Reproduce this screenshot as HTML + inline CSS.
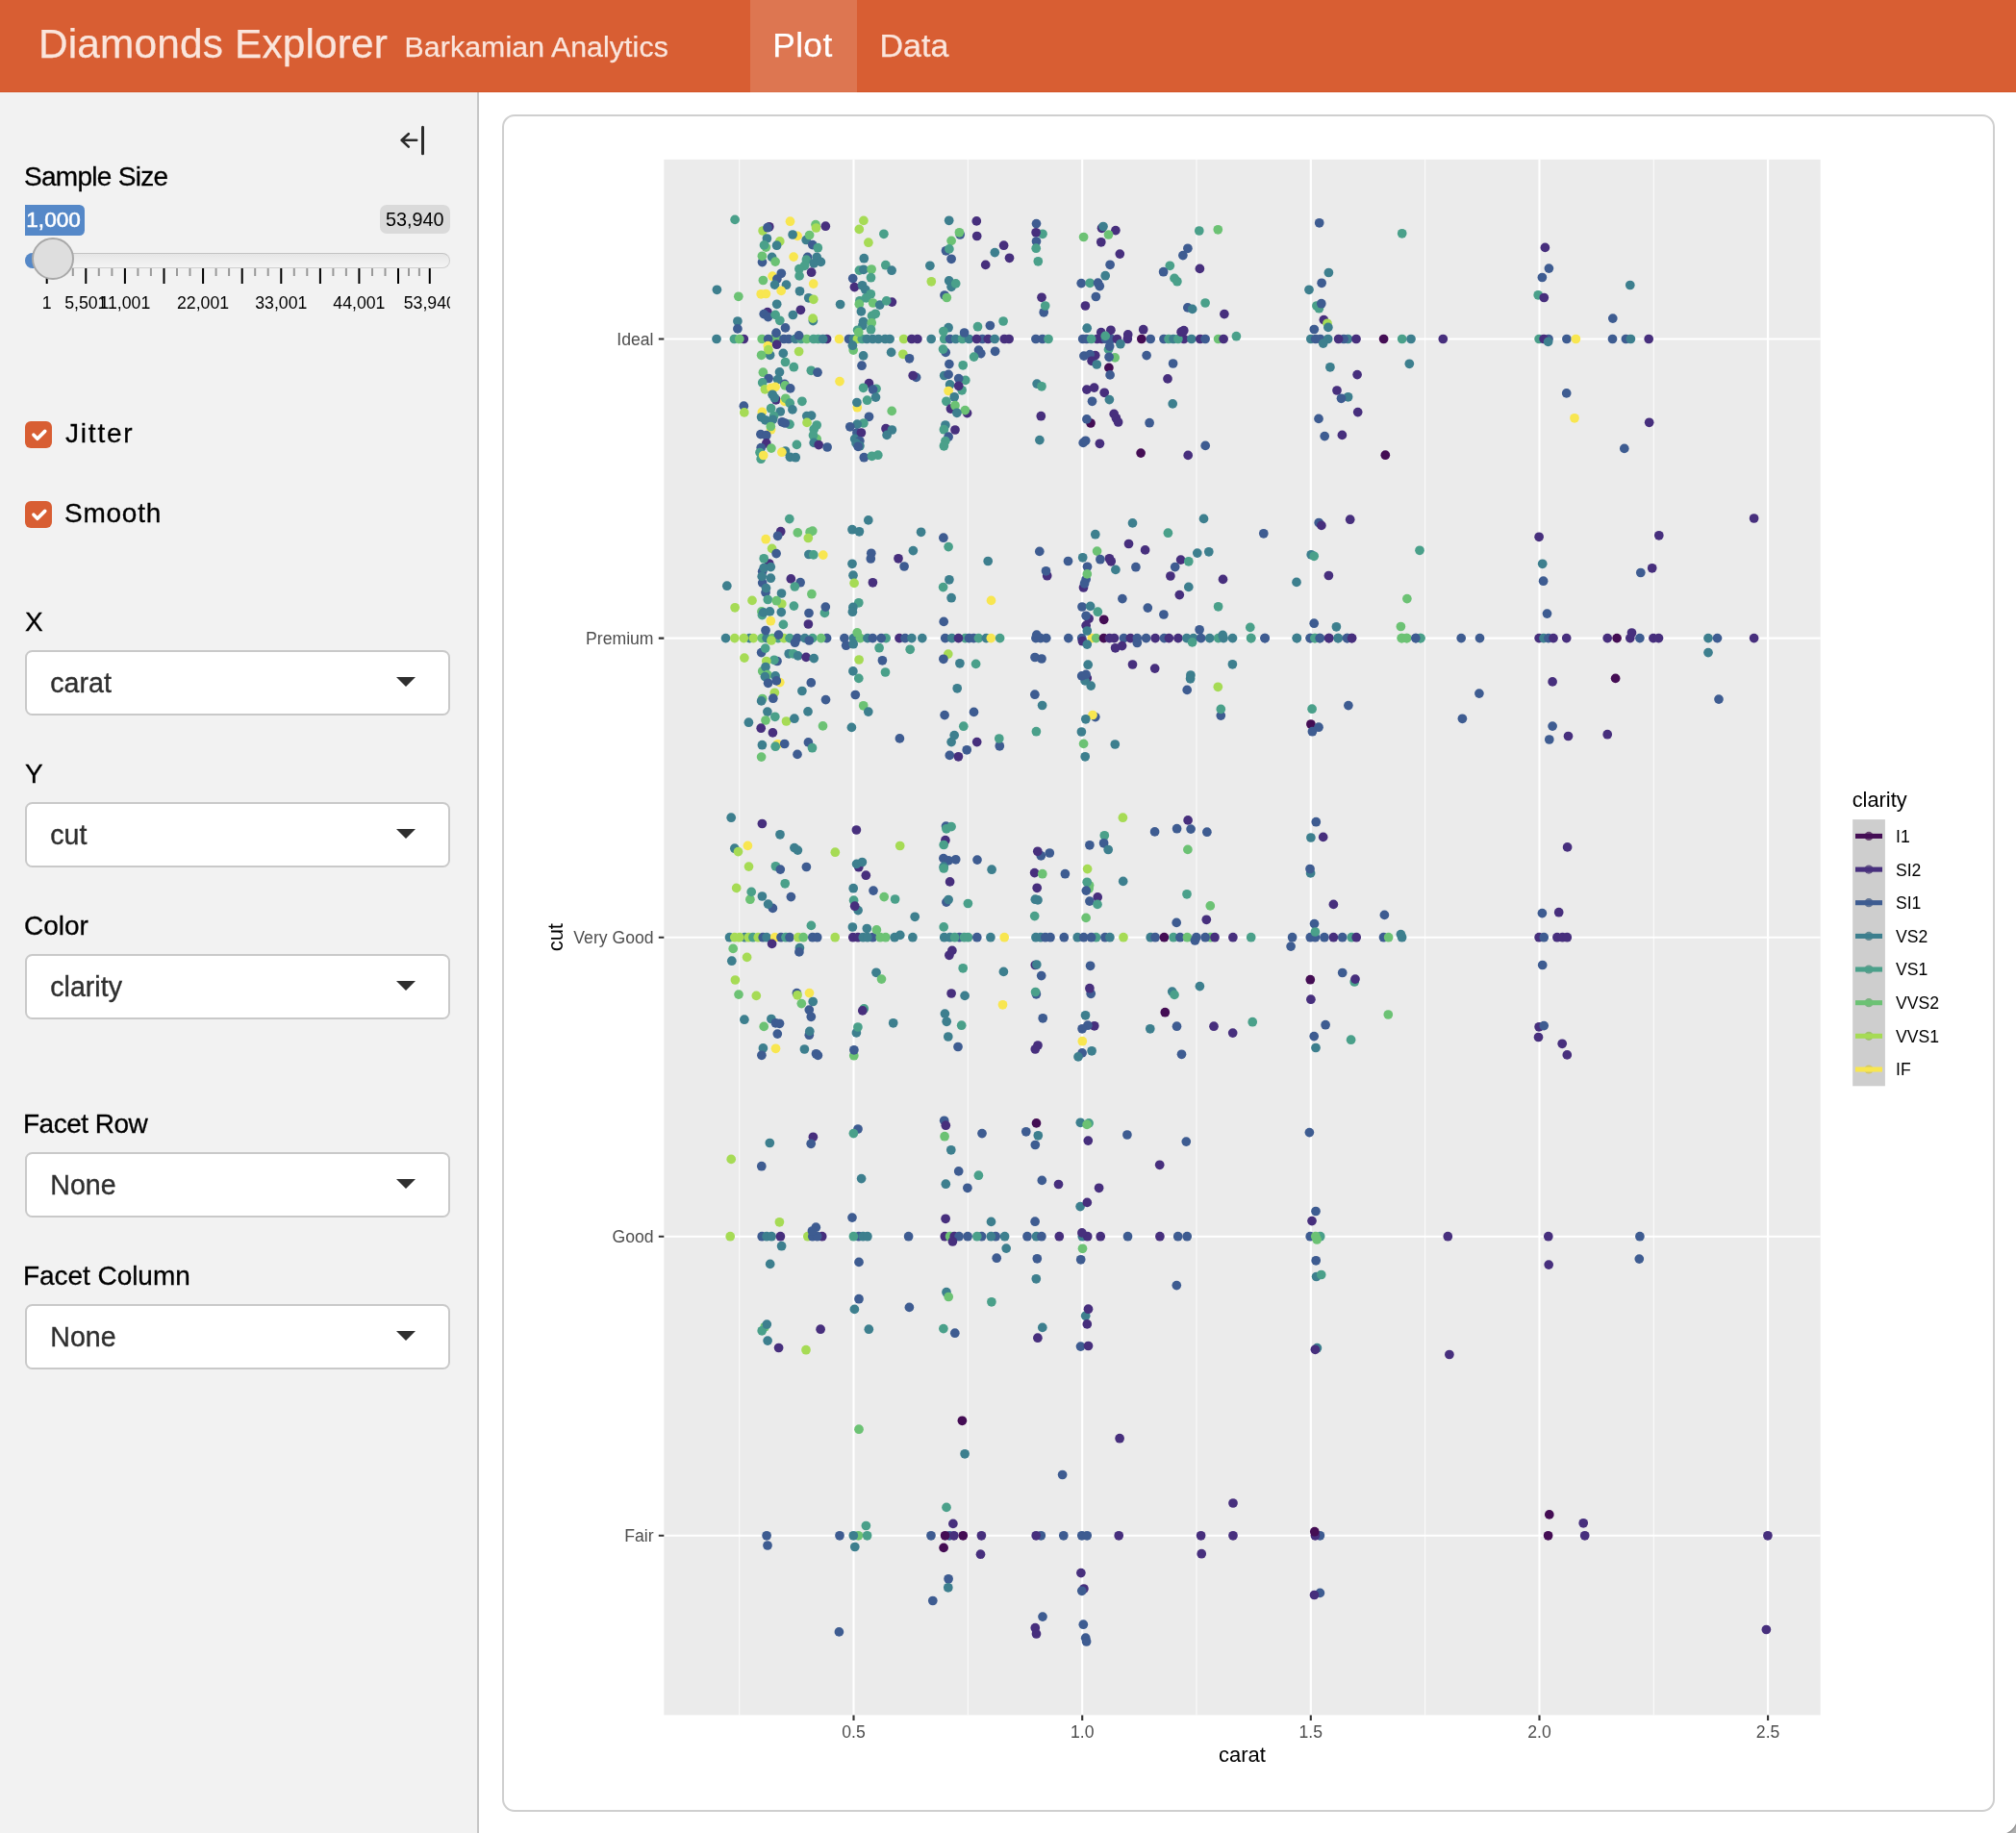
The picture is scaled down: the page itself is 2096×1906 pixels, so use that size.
<!DOCTYPE html>
<html>
<head>
<meta charset="utf-8">
<title>Diamonds Explorer</title>
<style>
html,body{margin:0;padding:0;}
body{width:2096px;height:1906px;position:relative;overflow:hidden;background:#fff;font-family:"Liberation Sans",sans-serif;color:#000;}
.abs{position:absolute;white-space:nowrap;line-height:1;}
#nav,#side,#plot,#slider,.sel,.lbl{will-change:transform;}
#nav{position:absolute;left:0;top:0;width:2096px;height:96px;background:#d85e33;}
#nav div{-webkit-text-stroke:0.25px currentColor;}
#nav .brand{left:40px;top:24.8px;font-size:42.4px;letter-spacing:0.15px;color:#fae5dc;}
#nav .sub{left:420.6px;top:34.3px;font-size:30.2px;letter-spacing:0.13px;color:#fae5dc;}
#nav .tabon{position:absolute;left:780px;top:0;width:111px;height:96px;background:rgba(255,255,255,0.15);}
#nav .t1{left:803.2px;top:29px;font-size:35.3px;letter-spacing:0.4px;color:#fff;}
#nav .t2{left:914.5px;top:30px;font-size:34px;color:#fae5dc;}
#side{position:absolute;left:0;top:96px;width:496px;height:1810px;background:#f2f2f2;border-right:2px solid #c6c6c6;}
.lbl{font-size:28px;color:#000;left:26px;-webkit-text-stroke:0.3px #000;}
.sel{position:absolute;left:26px;width:438px;height:64px;border:2px solid #c9c9c9;border-radius:7.5px;background:#fff;}
.sel span{position:absolute;left:24.3px;top:18px;font-size:28.6px;line-height:1;color:#2f2f2f;white-space:nowrap;-webkit-text-stroke:0.35px #2f2f2f;}
.sel i{position:absolute;left:384px;top:26px;width:0;height:0;border-left:10px solid transparent;border-right:10px solid transparent;border-top:10px solid #2f2f2f;}
.chk{position:absolute;left:26px;width:28px;height:28px;border-radius:6px;background:#d85e33;}
.chk svg{position:absolute;left:0;top:0;}
#card{position:absolute;left:522px;top:119px;width:1548px;height:1761px;border:2px solid #cfcfcf;border-radius:13px;background:#fff;}
#plot{position:absolute;left:0;top:0;}
#plot text{font-family:"Liberation Sans",sans-serif;}
</style>
</head>
<body>
<div id="nav">
  <div style="position:absolute;left:0;top:95px;width:2096px;height:1px;background:#d5562a;-webkit-text-stroke:0"></div>
  <div class="abs brand">Diamonds Explorer</div>
  <div class="abs sub">Barkamian Analytics</div>
  <div class="tabon"></div>
  <div class="abs t1">Plot</div>
  <div class="abs t2">Data</div>
</div>
<div id="side"></div>

<!-- collapse toggle icon -->
<svg class="abs" style="left:410px;top:126px" width="40" height="40" viewBox="0 0 40 40">
  <g fill="none" stroke="#2b2b2b" stroke-linecap="round" stroke-linejoin="round">
    <path d="M29.5 6.3V33.7" stroke-width="3"/>
    <path d="M23.2 19.8H8M14.8 13.2L7.6 19.8L14.8 26.6" stroke-width="2.6"/>
  </g>
</svg>

<div class="abs lbl" id="l0" style="left:25px;top:169.5px;letter-spacing:-0.7px">Sample Size</div>

<!-- slider -->
<div id="slider">
  <div class="abs" style="left:26px;top:213px;width:62px;height:32px;background:#5588c8;border-radius:0 5.5px 5.5px 0;"></div>
  <div class="abs" id="sfrom" style="left:27.3px;top:218.3px;font-size:22.6px;-webkit-text-stroke:0.55px #fff;color:#fff;">1,000</div>
  <div class="abs" style="left:395px;top:213px;width:73px;height:30px;background:#dadada;border-radius:7px;"></div>
  <div class="abs" id="smax" style="left:401px;top:219px;font-size:19.8px;color:#000;">53,940</div>
  <div class="abs" style="left:26px;top:263px;width:440px;height:14px;border:1px solid #cfcfcf;border-top-color:#c2c2c2;border-radius:8px;background:linear-gradient(#e6e6e6,#f4f4f4);"></div>
  <div class="abs" style="left:26px;top:263px;width:30px;height:16px;border-radius:8px 0 0 8px;background:#5588c8;"></div>
  <svg class="abs" id="sgrid" style="left:0;top:278px" width="500" height="50" viewBox="0 0 500 50"><path d="M48.7 1V17M89.3 1V17M129.9 1V17M170.5 1V17M211.1 1V17M251.7 1V17M292.3 1V17M332.9 1V17M373.4 1V17M414 1V17M446.8 1V17" stroke="#000" stroke-width="2" fill="none"/>
<path d="M62.2 1V9M75.8 1V9M102.8 1V9M116.4 1V9M143.4 1V9M156.9 1V9M184 1V9M197.5 1V9M224.6 1V9M238.1 1V9M265.2 1V9M278.7 1V9M305.8 1V9M319.3 1V9M346.4 1V9M359.9 1V9M387 1V9M400.5 1V9M425 1V9M435.9 1V9" stroke="#999" stroke-width="2" fill="none"/>
<clipPath id="gc"><rect x="0" y="0" width="468" height="50"/></clipPath>
<g clip-path="url(#gc)">
<text x="48.7" y="43" font-size="17.7" text-anchor="middle" fill="#000" font-family="Liberation Sans,sans-serif">1</text>
<text x="89.3" y="43" font-size="17.7" text-anchor="middle" fill="#000" font-family="Liberation Sans,sans-serif">5,501</text>
<text x="129.9" y="43" font-size="17.7" text-anchor="middle" fill="#000" font-family="Liberation Sans,sans-serif">11,001</text>
<text x="211.1" y="43" font-size="17.7" text-anchor="middle" fill="#000" font-family="Liberation Sans,sans-serif">22,001</text>
<text x="292.3" y="43" font-size="17.7" text-anchor="middle" fill="#000" font-family="Liberation Sans,sans-serif">33,001</text>
<text x="373.4" y="43" font-size="17.7" text-anchor="middle" fill="#000" font-family="Liberation Sans,sans-serif">44,001</text>
<text x="446.8" y="43" font-size="17.7" text-anchor="middle" fill="#000" font-family="Liberation Sans,sans-serif">53,940</text>
</g></svg>
  <div class="abs" style="left:33px;top:247px;width:40px;height:40px;border:2px solid #a8a8a8;border-radius:50%;background:#dedede;"></div>
</div>

<div class="chk" style="top:438px"><svg width="28" height="28" viewBox="0 0 20 20"><path d="M6.4 10.1l2.8 2.9l5.6-5.6" fill="none" stroke="#fff" stroke-width="2.6" stroke-linecap="round" stroke-linejoin="round"/></svg></div>
<div class="abs lbl" id="l1" style="left:67.5px;top:437px;letter-spacing:1.8px">Jitter</div>
<div class="chk" style="top:521px"><svg width="28" height="28" viewBox="0 0 20 20"><path d="M6.4 10.1l2.8 2.9l5.6-5.6" fill="none" stroke="#fff" stroke-width="2.6" stroke-linecap="round" stroke-linejoin="round"/></svg></div>
<div class="abs lbl" id="l2" style="left:67px;top:520px;letter-spacing:0.75px">Smooth</div>

<div class="abs lbl" id="l3" style="top:633px">X</div>
<div class="sel" style="top:676px"><span>carat</span><i></i></div>
<div class="abs lbl" id="l4" style="top:790.5px">Y</div>
<div class="sel" style="top:834px"><span>cut</span><i></i></div>
<div class="abs lbl" id="l5" style="left:25px;top:949px">Color</div>
<div class="sel" style="top:992px"><span>clarity</span><i></i></div>
<div class="abs lbl" id="l6" style="left:24px;top:1155px;letter-spacing:-0.5px">Facet Row</div>
<div class="sel" style="top:1198px"><span>None</span><i></i></div>
<div class="abs lbl" id="l7" style="left:24px;top:1313px;letter-spacing:-0.05px">Facet Column</div>
<div class="sel" style="top:1356px"><span>None</span><i></i></div>

<div id="card"></div>
<svg id="plot" width="2096" height="1906" viewBox="0 0 2096 1906">
<rect x="690.3" y="165.9" width="1202.4" height="1617.5" fill="#ebebeb"/>
<path d="M768.7 165.9V1783.4M1006.3 165.9V1783.4M1244 165.9V1783.4M1481.6 165.9V1783.4M1719.3 165.9V1783.4" stroke="#fff" stroke-width="1.07" fill="none" opacity="0.85"/>
<path d="M887.5 165.9V1783.4M1125.2 165.9V1783.4M1362.8 165.9V1783.4M1600.5 165.9V1783.4M1838.1 165.9V1783.4M690.3 352.5H1892.7M690.3 663.6H1892.7M690.3 974.7H1892.7M690.3 1285.7H1892.7M690.3 1596.8H1892.7" stroke="#fff" stroke-width="2.13" fill="none"/>
<circle cx="745" cy="352.5" r="4.85" fill="#3d7f8e"/>
<circle cx="773.3" cy="352.5" r="4.85" fill="#472f7d"/>
<circle cx="763.4" cy="352.5" r="4.85" fill="#4aa08a"/>
<circle cx="768.8" cy="352.5" r="4.85" fill="#6cc274"/>
<circle cx="792.2" cy="352.5" r="4.85" fill="#6cc274"/>
<circle cx="804.1" cy="352.5" r="4.85" fill="#6cc274"/>
<circle cx="798.7" cy="352.5" r="4.85" fill="#3e5c91"/>
<circle cx="809" cy="352.5" r="4.85" fill="#6cc274"/>
<circle cx="815" cy="352.5" r="4.85" fill="#3e5c91"/>
<circle cx="820" cy="352.5" r="4.85" fill="#3e5c91"/>
<circle cx="826.9" cy="352.5" r="4.85" fill="#3d7f8e"/>
<circle cx="832.9" cy="352.5" r="4.85" fill="#4aa08a"/>
<circle cx="838.8" cy="352.5" r="4.85" fill="#6cc274"/>
<circle cx="845.8" cy="352.5" r="4.85" fill="#4aa08a"/>
<circle cx="850.7" cy="352.5" r="4.85" fill="#4aa08a"/>
<circle cx="859.6" cy="352.5" r="4.85" fill="#472f7d"/>
<circle cx="855.7" cy="352.5" r="4.85" fill="#3d7f8e"/>
<circle cx="872.5" cy="352.5" r="4.85" fill="#f8e650"/>
<circle cx="882.5" cy="352.5" r="4.85" fill="#3e5c91"/>
<circle cx="887.4" cy="352.5" r="4.85" fill="#3d7f8e"/>
<circle cx="891.4" cy="352.5" r="4.85" fill="#a6db55"/>
<circle cx="896.3" cy="352.5" r="4.85" fill="#4aa08a"/>
<circle cx="901.3" cy="352.5" r="4.85" fill="#3d7f8e"/>
<circle cx="907.3" cy="352.5" r="4.85" fill="#3d7f8e"/>
<circle cx="913.2" cy="352.5" r="4.85" fill="#3d7f8e"/>
<circle cx="920.2" cy="352.5" r="4.85" fill="#3d7f8e"/>
<circle cx="925.1" cy="352.5" r="4.85" fill="#3d7f8e"/>
<circle cx="939.6" cy="352.5" r="4.85" fill="#a6db55"/>
<circle cx="947.9" cy="352.5" r="4.85" fill="#472f7d"/>
<circle cx="953.9" cy="352.5" r="4.85" fill="#472f7d"/>
<circle cx="968.2" cy="352.5" r="4.85" fill="#3d7f8e"/>
<circle cx="981.7" cy="352.5" r="4.85" fill="#4aa08a"/>
<circle cx="987.6" cy="352.5" r="4.85" fill="#3e5c91"/>
<circle cx="993.6" cy="352.5" r="4.85" fill="#3d7f8e"/>
<circle cx="1000.5" cy="352.5" r="4.85" fill="#4aa08a"/>
<circle cx="1007.5" cy="352.5" r="4.85" fill="#3d7f8e"/>
<circle cx="1021.3" cy="352.5" r="4.85" fill="#3e5c91"/>
<circle cx="1015.4" cy="352.5" r="4.85" fill="#472f7d"/>
<circle cx="1027.3" cy="352.5" r="4.85" fill="#472f7d"/>
<circle cx="1034.2" cy="352.5" r="4.85" fill="#3d7f8e"/>
<circle cx="1044.2" cy="352.5" r="4.85" fill="#472f7d"/>
<circle cx="1049.1" cy="352.5" r="4.85" fill="#472f7d"/>
<circle cx="1076.9" cy="352.5" r="4.85" fill="#3e5c91"/>
<circle cx="1083.8" cy="352.5" r="4.85" fill="#3e5c91"/>
<circle cx="1090" cy="352.5" r="4.85" fill="#4aa08a"/>
<circle cx="1125.7" cy="352.5" r="4.85" fill="#3e5c91"/>
<circle cx="1129.7" cy="352.5" r="4.85" fill="#3e5c91"/>
<circle cx="1140.6" cy="352.5" r="4.85" fill="#472f7d"/>
<circle cx="1134.6" cy="352.5" r="4.85" fill="#4aa08a"/>
<circle cx="1145.6" cy="352.5" r="4.85" fill="#472f7d"/>
<circle cx="1149.5" cy="352.5" r="4.85" fill="#3e5c91"/>
<circle cx="1155.5" cy="352.5" r="4.85" fill="#3e5c91"/>
<circle cx="1161.4" cy="352.5" r="4.85" fill="#472f7d"/>
<circle cx="1172.3" cy="352.5" r="4.85" fill="#472f7d"/>
<circle cx="1196.2" cy="352.5" r="4.85" fill="#3e5c91"/>
<circle cx="1186.8" cy="352.5" r="4.85" fill="#440d54"/>
<circle cx="1210" cy="352.5" r="4.85" fill="#3e5c91"/>
<circle cx="1215" cy="352.5" r="4.85" fill="#4aa08a"/>
<circle cx="1220" cy="352.5" r="4.85" fill="#3d7f8e"/>
<circle cx="1230.9" cy="352.5" r="4.85" fill="#472f7d"/>
<circle cx="1224.9" cy="352.5" r="4.85" fill="#4aa08a"/>
<circle cx="1238.8" cy="352.5" r="4.85" fill="#3d7f8e"/>
<circle cx="1247.7" cy="352.5" r="4.85" fill="#472f7d"/>
<circle cx="1253.1" cy="352.5" r="4.85" fill="#3e5c91"/>
<circle cx="1266.6" cy="352.5" r="4.85" fill="#6cc274"/>
<circle cx="1272.1" cy="352.5" r="4.85" fill="#472f7d"/>
<circle cx="1362.8" cy="352.5" r="4.85" fill="#3d7f8e"/>
<circle cx="1367.8" cy="352.5" r="4.85" fill="#3e5c91"/>
<circle cx="1372.7" cy="352.5" r="4.85" fill="#3e5c91"/>
<circle cx="1380.7" cy="352.5" r="4.85" fill="#3d7f8e"/>
<circle cx="1401.5" cy="352.5" r="4.85" fill="#3d7f8e"/>
<circle cx="1397.1" cy="352.5" r="4.85" fill="#3e5c91"/>
<circle cx="1391.6" cy="352.5" r="4.85" fill="#472f7d"/>
<circle cx="1410" cy="352.5" r="4.85" fill="#472f7d"/>
<circle cx="1438.6" cy="352.5" r="4.85" fill="#440d54"/>
<circle cx="1457.7" cy="352.5" r="4.85" fill="#4aa08a"/>
<circle cx="1467" cy="352.5" r="4.85" fill="#3d7f8e"/>
<circle cx="1500.3" cy="352.5" r="4.85" fill="#472f7d"/>
<circle cx="1600.1" cy="352.5" r="4.85" fill="#4aa08a"/>
<circle cx="1610" cy="352.5" r="4.85" fill="#3e5c91"/>
<circle cx="1605.1" cy="352.5" r="4.85" fill="#472f7d"/>
<circle cx="1628.9" cy="352.5" r="4.85" fill="#3e5c91"/>
<circle cx="1638.4" cy="352.5" r="4.85" fill="#f8e650"/>
<circle cx="1676.5" cy="352.5" r="4.85" fill="#3e5c91"/>
<circle cx="1690.4" cy="352.5" r="4.85" fill="#3e5c91"/>
<circle cx="1695.4" cy="352.5" r="4.85" fill="#3d7f8e"/>
<circle cx="1714.2" cy="352.5" r="4.85" fill="#472f7d"/>
<circle cx="1300.7" cy="663.6" r="4.85" fill="#4aa08a"/>
<circle cx="1315" cy="663.6" r="4.85" fill="#3e5c91"/>
<circle cx="1348.3" cy="663.6" r="4.85" fill="#3d7f8e"/>
<circle cx="1362.3" cy="663.6" r="4.85" fill="#3e5c91"/>
<circle cx="1367.4" cy="663.6" r="4.85" fill="#6cc274"/>
<circle cx="1372.4" cy="663.6" r="4.85" fill="#3e5c91"/>
<circle cx="1381.7" cy="663.6" r="4.85" fill="#472f7d"/>
<circle cx="1391.2" cy="663.6" r="4.85" fill="#3d7f8e"/>
<circle cx="1400.7" cy="663.6" r="4.85" fill="#3e5c91"/>
<circle cx="1405.5" cy="663.6" r="4.85" fill="#472f7d"/>
<circle cx="1457.6" cy="663.6" r="4.85" fill="#6cc274"/>
<circle cx="1462.6" cy="663.6" r="4.85" fill="#6cc274"/>
<circle cx="1476.9" cy="663.6" r="4.85" fill="#4aa08a"/>
<circle cx="1472.1" cy="663.6" r="4.85" fill="#3e5c91"/>
<circle cx="1519.2" cy="663.6" r="4.85" fill="#3e5c91"/>
<circle cx="1538.5" cy="663.6" r="4.85" fill="#3e5c91"/>
<circle cx="1600.1" cy="663.6" r="4.85" fill="#472f7d"/>
<circle cx="1604.9" cy="663.6" r="4.85" fill="#3d7f8e"/>
<circle cx="1609.9" cy="663.6" r="4.85" fill="#3e5c91"/>
<circle cx="1615" cy="663.6" r="4.85" fill="#472f7d"/>
<circle cx="1628.7" cy="663.6" r="4.85" fill="#472f7d"/>
<circle cx="1671.2" cy="663.6" r="4.85" fill="#472f7d"/>
<circle cx="1681.1" cy="663.6" r="4.85" fill="#440d54"/>
<circle cx="1694.8" cy="663.6" r="4.85" fill="#472f7d"/>
<circle cx="1704.9" cy="663.6" r="4.85" fill="#3e5c91"/>
<circle cx="1718.9" cy="663.6" r="4.85" fill="#472f7d"/>
<circle cx="1724.5" cy="663.6" r="4.85" fill="#472f7d"/>
<circle cx="1776" cy="663.6" r="4.85" fill="#3d7f8e"/>
<circle cx="1785.5" cy="663.6" r="4.85" fill="#3e5c91"/>
<circle cx="1823.6" cy="663.6" r="4.85" fill="#472f7d"/>
<circle cx="754.5" cy="663.6" r="4.85" fill="#3d7f8e"/>
<circle cx="763.8" cy="663.6" r="4.85" fill="#a6db55"/>
<circle cx="779.3" cy="663.6" r="4.85" fill="#3d7f8e"/>
<circle cx="773.3" cy="663.6" r="4.85" fill="#a6db55"/>
<circle cx="783.3" cy="663.6" r="4.85" fill="#a6db55"/>
<circle cx="792.2" cy="663.6" r="4.85" fill="#6cc274"/>
<circle cx="797.1" cy="663.6" r="4.85" fill="#3d7f8e"/>
<circle cx="803.1" cy="663.6" r="4.85" fill="#6cc274"/>
<circle cx="809" cy="663.6" r="4.85" fill="#4aa08a"/>
<circle cx="815" cy="663.6" r="4.85" fill="#a6db55"/>
<circle cx="821" cy="663.6" r="4.85" fill="#4aa08a"/>
<circle cx="828.9" cy="663.6" r="4.85" fill="#3e5c91"/>
<circle cx="836.8" cy="663.6" r="4.85" fill="#3d7f8e"/>
<circle cx="844.8" cy="663.6" r="4.85" fill="#4aa08a"/>
<circle cx="859.6" cy="663.6" r="4.85" fill="#3e5c91"/>
<circle cx="853.7" cy="663.6" r="4.85" fill="#6cc274"/>
<circle cx="877.9" cy="663.6" r="4.85" fill="#3e5c91"/>
<circle cx="887.4" cy="663.6" r="4.85" fill="#3d7f8e"/>
<circle cx="894.4" cy="663.6" r="4.85" fill="#6cc274"/>
<circle cx="901.9" cy="663.6" r="4.85" fill="#3d7f8e"/>
<circle cx="907.3" cy="663.6" r="4.85" fill="#3e5c91"/>
<circle cx="921.2" cy="663.6" r="4.85" fill="#4aa08a"/>
<circle cx="916.2" cy="663.6" r="4.85" fill="#3e5c91"/>
<circle cx="935" cy="663.6" r="4.85" fill="#472f7d"/>
<circle cx="941" cy="663.6" r="4.85" fill="#3e5c91"/>
<circle cx="947.9" cy="663.6" r="4.85" fill="#3d7f8e"/>
<circle cx="958.8" cy="663.6" r="4.85" fill="#3d7f8e"/>
<circle cx="982.7" cy="663.6" r="4.85" fill="#3e5c91"/>
<circle cx="989.6" cy="663.6" r="4.85" fill="#3d7f8e"/>
<circle cx="1003.5" cy="663.6" r="4.85" fill="#4aa08a"/>
<circle cx="996.5" cy="663.6" r="4.85" fill="#472f7d"/>
<circle cx="1007.5" cy="663.6" r="4.85" fill="#3e5c91"/>
<circle cx="1012.4" cy="663.6" r="4.85" fill="#3e5c91"/>
<circle cx="1017.4" cy="663.6" r="4.85" fill="#4aa08a"/>
<circle cx="1025.3" cy="663.6" r="4.85" fill="#3d7f8e"/>
<circle cx="1030.3" cy="663.6" r="4.85" fill="#f8e650"/>
<circle cx="1039.6" cy="663.6" r="4.85" fill="#4aa08a"/>
<circle cx="1076.9" cy="663.6" r="4.85" fill="#3e5c91"/>
<circle cx="1081.9" cy="663.6" r="4.85" fill="#3e5c91"/>
<circle cx="1087.8" cy="663.6" r="4.85" fill="#3e5c91"/>
<circle cx="1110.8" cy="663.6" r="4.85" fill="#3e5c91"/>
<circle cx="1124.7" cy="663.6" r="4.85" fill="#3e5c91"/>
<circle cx="1135.2" cy="663.6" r="4.85" fill="#f8e650"/>
<circle cx="1139.6" cy="663.6" r="4.85" fill="#6cc274"/>
<circle cx="1147.5" cy="663.6" r="4.85" fill="#440d54"/>
<circle cx="1153.5" cy="663.6" r="4.85" fill="#472f7d"/>
<circle cx="1158.5" cy="663.6" r="4.85" fill="#472f7d"/>
<circle cx="1168.4" cy="663.6" r="4.85" fill="#3e5c91"/>
<circle cx="1175.3" cy="663.6" r="4.85" fill="#472f7d"/>
<circle cx="1182.3" cy="663.6" r="4.85" fill="#3e5c91"/>
<circle cx="1191.6" cy="663.6" r="4.85" fill="#3e5c91"/>
<circle cx="1201.1" cy="663.6" r="4.85" fill="#472f7d"/>
<circle cx="1210.4" cy="663.6" r="4.85" fill="#3e5c91"/>
<circle cx="1215.4" cy="663.6" r="4.85" fill="#472f7d"/>
<circle cx="1224.9" cy="663.6" r="4.85" fill="#472f7d"/>
<circle cx="1233.8" cy="663.6" r="4.85" fill="#3d7f8e"/>
<circle cx="1240.8" cy="663.6" r="4.85" fill="#3d7f8e"/>
<circle cx="1248.7" cy="663.6" r="4.85" fill="#3e5c91"/>
<circle cx="1257.7" cy="663.6" r="4.85" fill="#3d7f8e"/>
<circle cx="1266.6" cy="663.6" r="4.85" fill="#4aa08a"/>
<circle cx="1272.1" cy="663.6" r="4.85" fill="#3d7f8e"/>
<circle cx="1281.5" cy="663.6" r="4.85" fill="#3d7f8e"/>
<circle cx="1300.7" cy="663.6" r="4.85" fill="#4aa08a"/>
<circle cx="1315.2" cy="663.6" r="4.85" fill="#3e5c91"/>
<circle cx="1348.3" cy="663.6" r="4.85" fill="#3d7f8e"/>
<circle cx="1362.2" cy="663.6" r="4.85" fill="#3e5c91"/>
<circle cx="1366.8" cy="663.6" r="4.85" fill="#4aa08a"/>
<circle cx="1372.1" cy="663.6" r="4.85" fill="#3e5c91"/>
<circle cx="1381.7" cy="663.6" r="4.85" fill="#472f7d"/>
<circle cx="1391.2" cy="663.6" r="4.85" fill="#3d7f8e"/>
<circle cx="1400.5" cy="663.6" r="4.85" fill="#3e5c91"/>
<circle cx="1405.5" cy="663.6" r="4.85" fill="#472f7d"/>
<circle cx="1457.1" cy="663.6" r="4.85" fill="#6cc274"/>
<circle cx="1462.6" cy="663.6" r="4.85" fill="#6cc274"/>
<circle cx="1476.9" cy="663.6" r="4.85" fill="#4aa08a"/>
<circle cx="1471.9" cy="663.6" r="4.85" fill="#3e5c91"/>
<circle cx="1300.7" cy="974.7" r="4.85" fill="#4aa08a"/>
<circle cx="1343.6" cy="974.7" r="4.85" fill="#3e5c91"/>
<circle cx="1362.3" cy="974.7" r="4.85" fill="#3e5c91"/>
<circle cx="1367.4" cy="974.7" r="4.85" fill="#3e5c91"/>
<circle cx="1376.9" cy="974.7" r="4.85" fill="#3e5c91"/>
<circle cx="1386.4" cy="974.7" r="4.85" fill="#472f7d"/>
<circle cx="1395.7" cy="974.7" r="4.85" fill="#3e5c91"/>
<circle cx="1405.2" cy="974.7" r="4.85" fill="#4aa08a"/>
<circle cx="1410.2" cy="974.7" r="4.85" fill="#472f7d"/>
<circle cx="1438.5" cy="974.7" r="4.85" fill="#3e5c91"/>
<circle cx="1443.6" cy="974.7" r="4.85" fill="#6cc274"/>
<circle cx="1457.6" cy="974.7" r="4.85" fill="#3d7f8e"/>
<circle cx="1600.1" cy="974.7" r="4.85" fill="#472f7d"/>
<circle cx="1605.2" cy="974.7" r="4.85" fill="#3e5c91"/>
<circle cx="1618.9" cy="974.7" r="4.85" fill="#472f7d"/>
<circle cx="1624.5" cy="974.7" r="4.85" fill="#472f7d"/>
<circle cx="1629.3" cy="974.7" r="4.85" fill="#472f7d"/>
<circle cx="758.5" cy="974.7" r="4.85" fill="#3d7f8e"/>
<circle cx="774.3" cy="974.7" r="4.85" fill="#3d7f8e"/>
<circle cx="763.8" cy="974.7" r="4.85" fill="#a6db55"/>
<circle cx="768.8" cy="974.7" r="4.85" fill="#a6db55"/>
<circle cx="778.3" cy="974.7" r="4.85" fill="#a6db55"/>
<circle cx="782.9" cy="974.7" r="4.85" fill="#4aa08a"/>
<circle cx="788.2" cy="974.7" r="4.85" fill="#a6db55"/>
<circle cx="793.2" cy="974.7" r="4.85" fill="#3e5c91"/>
<circle cx="797.1" cy="974.7" r="4.85" fill="#3d7f8e"/>
<circle cx="805.7" cy="974.7" r="4.85" fill="#f8e650"/>
<circle cx="812" cy="974.7" r="4.85" fill="#3e5c91"/>
<circle cx="817" cy="974.7" r="4.85" fill="#4aa08a"/>
<circle cx="821" cy="974.7" r="4.85" fill="#3e5c91"/>
<circle cx="829.9" cy="974.7" r="4.85" fill="#a6db55"/>
<circle cx="835.2" cy="974.7" r="4.85" fill="#6cc274"/>
<circle cx="844.8" cy="974.7" r="4.85" fill="#3e5c91"/>
<circle cx="849.7" cy="974.7" r="4.85" fill="#3e5c91"/>
<circle cx="868.2" cy="974.7" r="4.85" fill="#a6db55"/>
<circle cx="886.8" cy="974.7" r="4.85" fill="#472f7d"/>
<circle cx="892" cy="974.7" r="4.85" fill="#472f7d"/>
<circle cx="897.3" cy="974.7" r="4.85" fill="#3d7f8e"/>
<circle cx="907.3" cy="974.7" r="4.85" fill="#3e5c91"/>
<circle cx="901.9" cy="974.7" r="4.85" fill="#3d7f8e"/>
<circle cx="915.2" cy="974.7" r="4.85" fill="#6cc274"/>
<circle cx="920.8" cy="974.7" r="4.85" fill="#6cc274"/>
<circle cx="930.1" cy="974.7" r="4.85" fill="#3d7f8e"/>
<circle cx="948.9" cy="974.7" r="4.85" fill="#3d7f8e"/>
<circle cx="981.7" cy="974.7" r="4.85" fill="#3d7f8e"/>
<circle cx="987.6" cy="974.7" r="4.85" fill="#3d7f8e"/>
<circle cx="997.5" cy="974.7" r="4.85" fill="#3e5c91"/>
<circle cx="992.6" cy="974.7" r="4.85" fill="#4aa08a"/>
<circle cx="1002.5" cy="974.7" r="4.85" fill="#4aa08a"/>
<circle cx="1006.5" cy="974.7" r="4.85" fill="#4aa08a"/>
<circle cx="1015.8" cy="974.7" r="4.85" fill="#3e5c91"/>
<circle cx="1029.9" cy="974.7" r="4.85" fill="#3d7f8e"/>
<circle cx="1044.2" cy="974.7" r="4.85" fill="#f8e650"/>
<circle cx="1076.9" cy="974.7" r="4.85" fill="#3d7f8e"/>
<circle cx="1081.9" cy="974.7" r="4.85" fill="#3d7f8e"/>
<circle cx="1086.8" cy="974.7" r="4.85" fill="#3e5c91"/>
<circle cx="1092" cy="974.7" r="4.85" fill="#3e5c91"/>
<circle cx="1106.3" cy="974.7" r="4.85" fill="#3e5c91"/>
<circle cx="1120.2" cy="974.7" r="4.85" fill="#3d7f8e"/>
<circle cx="1139.6" cy="974.7" r="4.85" fill="#4aa08a"/>
<circle cx="1126.7" cy="974.7" r="4.85" fill="#3e5c91"/>
<circle cx="1134.6" cy="974.7" r="4.85" fill="#3e5c91"/>
<circle cx="1148.9" cy="974.7" r="4.85" fill="#3e5c91"/>
<circle cx="1153.9" cy="974.7" r="4.85" fill="#3d7f8e"/>
<circle cx="1168" cy="974.7" r="4.85" fill="#a6db55"/>
<circle cx="1196.2" cy="974.7" r="4.85" fill="#3d7f8e"/>
<circle cx="1201.1" cy="974.7" r="4.85" fill="#3e5c91"/>
<circle cx="1210.4" cy="974.7" r="4.85" fill="#440d54"/>
<circle cx="1220" cy="974.7" r="4.85" fill="#4aa08a"/>
<circle cx="1226.9" cy="974.7" r="4.85" fill="#3e5c91"/>
<circle cx="1234.4" cy="974.7" r="4.85" fill="#6cc274"/>
<circle cx="1243.8" cy="974.7" r="4.85" fill="#3e5c91"/>
<circle cx="1258.7" cy="974.7" r="4.85" fill="#6cc274"/>
<circle cx="1253.1" cy="974.7" r="4.85" fill="#3e5c91"/>
<circle cx="1263" cy="974.7" r="4.85" fill="#472f7d"/>
<circle cx="1281.9" cy="974.7" r="4.85" fill="#472f7d"/>
<circle cx="759.2" cy="1285.7" r="4.85" fill="#a6db55"/>
<circle cx="792.2" cy="1285.7" r="4.85" fill="#3e5c91"/>
<circle cx="797.1" cy="1285.7" r="4.85" fill="#3d7f8e"/>
<circle cx="802.1" cy="1285.7" r="4.85" fill="#3d7f8e"/>
<circle cx="811.4" cy="1285.7" r="4.85" fill="#472f7d"/>
<circle cx="839.8" cy="1285.7" r="4.85" fill="#a6db55"/>
<circle cx="854.7" cy="1285.7" r="4.85" fill="#472f7d"/>
<circle cx="844.8" cy="1285.7" r="4.85" fill="#3e5c91"/>
<circle cx="849.7" cy="1285.7" r="4.85" fill="#3e5c91"/>
<circle cx="892.8" cy="1285.7" r="4.85" fill="#3e5c91"/>
<circle cx="887.4" cy="1285.7" r="4.85" fill="#4aa08a"/>
<circle cx="897.3" cy="1285.7" r="4.85" fill="#3d7f8e"/>
<circle cx="901.9" cy="1285.7" r="4.85" fill="#3d7f8e"/>
<circle cx="944.6" cy="1285.7" r="4.85" fill="#3e5c91"/>
<circle cx="982.3" cy="1285.7" r="4.85" fill="#472f7d"/>
<circle cx="987.6" cy="1285.7" r="4.85" fill="#6cc274"/>
<circle cx="992.2" cy="1285.7" r="4.85" fill="#472f7d"/>
<circle cx="997.1" cy="1285.7" r="4.85" fill="#3e5c91"/>
<circle cx="1006.1" cy="1285.7" r="4.85" fill="#3e5c91"/>
<circle cx="1020.6" cy="1285.7" r="4.85" fill="#3e5c91"/>
<circle cx="1015.8" cy="1285.7" r="4.85" fill="#4aa08a"/>
<circle cx="1035.2" cy="1285.7" r="4.85" fill="#3e5c91"/>
<circle cx="1030.3" cy="1285.7" r="4.85" fill="#3d7f8e"/>
<circle cx="1044.6" cy="1285.7" r="4.85" fill="#3d7f8e"/>
<circle cx="1068" cy="1285.7" r="4.85" fill="#3e5c91"/>
<circle cx="1077.5" cy="1285.7" r="4.85" fill="#3d7f8e"/>
<circle cx="1082.9" cy="1285.7" r="4.85" fill="#3e5c91"/>
<circle cx="1101.3" cy="1285.7" r="4.85" fill="#472f7d"/>
<circle cx="1125.3" cy="1285.7" r="4.85" fill="#3d7f8e"/>
<circle cx="1130.7" cy="1285.7" r="4.85" fill="#472f7d"/>
<circle cx="1144.2" cy="1285.7" r="4.85" fill="#472f7d"/>
<circle cx="1172.5" cy="1285.7" r="4.85" fill="#3e5c91"/>
<circle cx="1205.9" cy="1285.7" r="4.85" fill="#472f7d"/>
<circle cx="1224.7" cy="1285.7" r="4.85" fill="#3e5c91"/>
<circle cx="1234.2" cy="1285.7" r="4.85" fill="#3e5c91"/>
<circle cx="1362.2" cy="1285.7" r="4.85" fill="#3e5c91"/>
<circle cx="1372.7" cy="1285.7" r="4.85" fill="#4aa08a"/>
<circle cx="1367.8" cy="1285.7" r="4.85" fill="#6cc274"/>
<circle cx="1505.3" cy="1285.7" r="4.85" fill="#472f7d"/>
<circle cx="1609.8" cy="1285.7" r="4.85" fill="#472f7d"/>
<circle cx="1704.9" cy="1285.7" r="4.85" fill="#3e5c91"/>
<circle cx="797.1" cy="1596.8" r="4.85" fill="#3e5c91"/>
<circle cx="873" cy="1596.8" r="4.85" fill="#3e5c91"/>
<circle cx="892.4" cy="1596.8" r="4.85" fill="#6cc274"/>
<circle cx="887.3" cy="1596.8" r="4.85" fill="#3d7f8e"/>
<circle cx="901.6" cy="1596.8" r="4.85" fill="#4aa08a"/>
<circle cx="968" cy="1596.8" r="4.85" fill="#3e5c91"/>
<circle cx="987" cy="1596.8" r="4.85" fill="#3e5c91"/>
<circle cx="982.6" cy="1596.8" r="4.85" fill="#440d54"/>
<circle cx="991.8" cy="1596.8" r="4.85" fill="#472f7d"/>
<circle cx="1001.3" cy="1596.8" r="4.85" fill="#440d54"/>
<circle cx="1020.4" cy="1596.8" r="4.85" fill="#472f7d"/>
<circle cx="1082.3" cy="1596.8" r="4.85" fill="#3e5c91"/>
<circle cx="1077.2" cy="1596.8" r="4.85" fill="#472f7d"/>
<circle cx="1105.8" cy="1596.8" r="4.85" fill="#3e5c91"/>
<circle cx="1124.8" cy="1596.8" r="4.85" fill="#3e5c91"/>
<circle cx="1130.2" cy="1596.8" r="4.85" fill="#3e5c91"/>
<circle cx="1163.2" cy="1596.8" r="4.85" fill="#472f7d"/>
<circle cx="1248.6" cy="1596.8" r="4.85" fill="#472f7d"/>
<circle cx="1282" cy="1596.8" r="4.85" fill="#472f7d"/>
<circle cx="1372.4" cy="1596.8" r="4.85" fill="#3e5c91"/>
<circle cx="1367.4" cy="1596.8" r="4.85" fill="#472f7d"/>
<circle cx="1609.6" cy="1596.8" r="4.85" fill="#440d54"/>
<circle cx="1647.7" cy="1596.8" r="4.85" fill="#472f7d"/>
<circle cx="1837.9" cy="1596.8" r="4.85" fill="#472f7d"/>
<circle cx="764.1" cy="228.4" r="4.85" fill="#4aa08a"/>
<circle cx="745.4" cy="301.3" r="4.85" fill="#3d7f8e"/>
<circle cx="767.8" cy="308.3" r="4.85" fill="#6cc274"/>
<circle cx="766.9" cy="334" r="4.85" fill="#3d7f8e"/>
<circle cx="766.9" cy="341.9" r="4.85" fill="#3e5c91"/>
<circle cx="793.1" cy="240" r="4.85" fill="#a6db55"/>
<circle cx="799.8" cy="235.8" r="4.85" fill="#472f7d"/>
<circle cx="798" cy="236.7" r="4.85" fill="#3e5c91"/>
<circle cx="797.4" cy="248" r="4.85" fill="#3d7f8e"/>
<circle cx="796.4" cy="257.1" r="4.85" fill="#6cc274"/>
<circle cx="794.5" cy="254.9" r="4.85" fill="#4aa08a"/>
<circle cx="810.8" cy="250.9" r="4.85" fill="#a6db55"/>
<circle cx="807.6" cy="255.2" r="4.85" fill="#3d7f8e"/>
<circle cx="792.5" cy="272.6" r="4.85" fill="#3e5c91"/>
<circle cx="792.4" cy="266.3" r="4.85" fill="#6cc274"/>
<circle cx="802.6" cy="267.4" r="4.85" fill="#3d7f8e"/>
<circle cx="806.1" cy="272.1" r="4.85" fill="#6cc274"/>
<circle cx="821.5" cy="230.2" r="4.85" fill="#f8e650"/>
<circle cx="829.1" cy="245.4" r="4.85" fill="#f8e650"/>
<circle cx="824.1" cy="244" r="4.85" fill="#3d7f8e"/>
<circle cx="825.1" cy="267.1" r="4.85" fill="#f8e650"/>
<circle cx="848" cy="233.6" r="4.85" fill="#6cc274"/>
<circle cx="848.5" cy="237" r="4.85" fill="#a6db55"/>
<circle cx="858.3" cy="235.2" r="4.85" fill="#472f7d"/>
<circle cx="838.2" cy="249.5" r="4.85" fill="#3d7f8e"/>
<circle cx="841.6" cy="244.5" r="4.85" fill="#6cc274"/>
<circle cx="844.8" cy="254.6" r="4.85" fill="#3e5c91"/>
<circle cx="850.3" cy="257.7" r="4.85" fill="#4aa08a"/>
<circle cx="839.6" cy="267.4" r="4.85" fill="#3e5c91"/>
<circle cx="838.4" cy="270.1" r="4.85" fill="#4aa08a"/>
<circle cx="849.2" cy="267.4" r="4.85" fill="#3d7f8e"/>
<circle cx="846.2" cy="273.8" r="4.85" fill="#3d7f8e"/>
<circle cx="853.4" cy="272.4" r="4.85" fill="#3d7f8e"/>
<circle cx="836.6" cy="276.3" r="4.85" fill="#4aa08a"/>
<circle cx="830.9" cy="279.7" r="4.85" fill="#4aa08a"/>
<circle cx="843.6" cy="283.2" r="4.85" fill="#472f7d"/>
<circle cx="831.1" cy="286.9" r="4.85" fill="#4aa08a"/>
<circle cx="812.3" cy="284.3" r="4.85" fill="#3e5c91"/>
<circle cx="803.1" cy="287.2" r="4.85" fill="#f8e650"/>
<circle cx="807.9" cy="290.1" r="4.85" fill="#3e5c91"/>
<circle cx="793.4" cy="291.5" r="4.85" fill="#6cc274"/>
<circle cx="805.5" cy="296.1" r="4.85" fill="#3d7f8e"/>
<circle cx="817.5" cy="296.2" r="4.85" fill="#3d7f8e"/>
<circle cx="845.7" cy="295.1" r="4.85" fill="#f8e650"/>
<circle cx="812.2" cy="302.4" r="4.85" fill="#f8e650"/>
<circle cx="791.2" cy="305.8" r="4.85" fill="#f8e650"/>
<circle cx="796.4" cy="305.5" r="4.85" fill="#f8e650"/>
<circle cx="831.5" cy="302.8" r="4.85" fill="#3d7f8e"/>
<circle cx="840.7" cy="309.8" r="4.85" fill="#3d7f8e"/>
<circle cx="845.8" cy="311.3" r="4.85" fill="#a6db55"/>
<circle cx="807.7" cy="316.3" r="4.85" fill="#3d7f8e"/>
<circle cx="832.4" cy="322.3" r="4.85" fill="#472f7d"/>
<circle cx="798" cy="324.7" r="4.85" fill="#472f7d"/>
<circle cx="794.2" cy="326.6" r="4.85" fill="#3e5c91"/>
<circle cx="798.6" cy="329.6" r="4.85" fill="#3e5c91"/>
<circle cx="806.1" cy="327.4" r="4.85" fill="#4aa08a"/>
<circle cx="824.4" cy="327.5" r="4.85" fill="#3d7f8e"/>
<circle cx="810.8" cy="333.3" r="4.85" fill="#4aa08a"/>
<circle cx="845.4" cy="333.6" r="4.85" fill="#3d7f8e"/>
<circle cx="845.1" cy="331.1" r="4.85" fill="#a6db55"/>
<circle cx="816.5" cy="340.9" r="4.85" fill="#3e5c91"/>
<circle cx="807" cy="346.2" r="4.85" fill="#3e5c91"/>
<circle cx="830.6" cy="348.9" r="4.85" fill="#3e5c91"/>
<circle cx="873.6" cy="316.5" r="4.85" fill="#3d7f8e"/>
<circle cx="897.9" cy="229.4" r="4.85" fill="#a6db55"/>
<circle cx="893.3" cy="238.4" r="4.85" fill="#a6db55"/>
<circle cx="918.9" cy="243.3" r="4.85" fill="#4aa08a"/>
<circle cx="902.9" cy="252.2" r="4.85" fill="#a6db55"/>
<circle cx="898.3" cy="268.7" r="4.85" fill="#3d7f8e"/>
<circle cx="920.8" cy="275.7" r="4.85" fill="#4aa08a"/>
<circle cx="927.1" cy="281.2" r="4.85" fill="#3d7f8e"/>
<circle cx="893.4" cy="281.1" r="4.85" fill="#4aa08a"/>
<circle cx="897.9" cy="280.3" r="4.85" fill="#3d7f8e"/>
<circle cx="906.1" cy="280" r="4.85" fill="#6cc274"/>
<circle cx="905.5" cy="288.7" r="4.85" fill="#4aa08a"/>
<circle cx="886.7" cy="289.6" r="4.85" fill="#3e5c91"/>
<circle cx="888.4" cy="298.6" r="4.85" fill="#472f7d"/>
<circle cx="896.5" cy="296.8" r="4.85" fill="#3d7f8e"/>
<circle cx="899.8" cy="301.3" r="4.85" fill="#3d7f8e"/>
<circle cx="905.3" cy="305.8" r="4.85" fill="#4aa08a"/>
<circle cx="900.6" cy="309.8" r="4.85" fill="#4aa08a"/>
<circle cx="893.9" cy="312.8" r="4.85" fill="#4aa08a"/>
<circle cx="893.3" cy="316.2" r="4.85" fill="#6cc274"/>
<circle cx="907.6" cy="315" r="4.85" fill="#6cc274"/>
<circle cx="914.7" cy="317.1" r="4.85" fill="#3d7f8e"/>
<circle cx="927.4" cy="314.1" r="4.85" fill="#472f7d"/>
<circle cx="921.7" cy="312.9" r="4.85" fill="#4aa08a"/>
<circle cx="895.4" cy="323.9" r="4.85" fill="#3d7f8e"/>
<circle cx="906.5" cy="328.4" r="4.85" fill="#4aa08a"/>
<circle cx="910.2" cy="326.3" r="4.85" fill="#4aa08a"/>
<circle cx="897.6" cy="334.5" r="4.85" fill="#3d7f8e"/>
<circle cx="896.8" cy="338.5" r="4.85" fill="#3d7f8e"/>
<circle cx="906.2" cy="335.8" r="4.85" fill="#6cc274"/>
<circle cx="905.5" cy="342.7" r="4.85" fill="#4aa08a"/>
<circle cx="891.6" cy="343.3" r="4.85" fill="#4aa08a"/>
<circle cx="892.7" cy="345.5" r="4.85" fill="#6cc274"/>
<circle cx="966.9" cy="276.3" r="4.85" fill="#3d7f8e"/>
<circle cx="968.3" cy="292.8" r="4.85" fill="#a6db55"/>
<circle cx="986.7" cy="229.3" r="4.85" fill="#3d7f8e"/>
<circle cx="989.1" cy="250.4" r="4.85" fill="#6cc274"/>
<circle cx="983.5" cy="260.8" r="4.85" fill="#3e5c91"/>
<circle cx="986.9" cy="258.9" r="4.85" fill="#4aa08a"/>
<circle cx="989.1" cy="269.3" r="4.85" fill="#3e5c91"/>
<circle cx="986.7" cy="291.9" r="4.85" fill="#3d7f8e"/>
<circle cx="989.1" cy="298.3" r="4.85" fill="#3d7f8e"/>
<circle cx="982" cy="307" r="4.85" fill="#3e5c91"/>
<circle cx="984.3" cy="309.5" r="4.85" fill="#6cc274"/>
<circle cx="986.1" cy="340.7" r="4.85" fill="#3d7f8e"/>
<circle cx="980.9" cy="344.5" r="4.85" fill="#4aa08a"/>
<circle cx="998.2" cy="244" r="4.85" fill="#3e5c91"/>
<circle cx="997.4" cy="241.8" r="4.85" fill="#6cc274"/>
<circle cx="993.7" cy="294.9" r="4.85" fill="#4aa08a"/>
<circle cx="1002.6" cy="346" r="4.85" fill="#3e5c91"/>
<circle cx="1015.3" cy="229.9" r="4.85" fill="#472f7d"/>
<circle cx="1015.7" cy="245.5" r="4.85" fill="#472f7d"/>
<circle cx="1043.6" cy="255.2" r="4.85" fill="#472f7d"/>
<circle cx="1034.3" cy="262.6" r="4.85" fill="#3d7f8e"/>
<circle cx="1049.5" cy="268.3" r="4.85" fill="#472f7d"/>
<circle cx="1024.7" cy="275.4" r="4.85" fill="#472f7d"/>
<circle cx="1077.5" cy="232.6" r="4.85" fill="#3e5c91"/>
<circle cx="1084" cy="243.3" r="4.85" fill="#4aa08a"/>
<circle cx="1077.1" cy="241.8" r="4.85" fill="#472f7d"/>
<circle cx="1077.5" cy="251" r="4.85" fill="#3e5c91"/>
<circle cx="1077.2" cy="258.2" r="4.85" fill="#4aa08a"/>
<circle cx="1079.3" cy="271.8" r="4.85" fill="#4aa08a"/>
<circle cx="1083" cy="309.3" r="4.85" fill="#472f7d"/>
<circle cx="1085.2" cy="324.8" r="4.85" fill="#3e5c91"/>
<circle cx="1086.7" cy="318" r="4.85" fill="#4aa08a"/>
<circle cx="1043.1" cy="334" r="4.85" fill="#4aa08a"/>
<circle cx="1016.5" cy="339.7" r="4.85" fill="#4aa08a"/>
<circle cx="1029.4" cy="338.5" r="4.85" fill="#3e5c91"/>
<circle cx="1126.6" cy="246.5" r="4.85" fill="#6cc274"/>
<circle cx="1145.5" cy="237.3" r="4.85" fill="#472f7d"/>
<circle cx="1147" cy="235.5" r="4.85" fill="#3d7f8e"/>
<circle cx="1159.9" cy="239.6" r="4.85" fill="#472f7d"/>
<circle cx="1152.5" cy="244" r="4.85" fill="#6cc274"/>
<circle cx="1144.8" cy="251.8" r="4.85" fill="#472f7d"/>
<circle cx="1164.3" cy="264.1" r="4.85" fill="#472f7d"/>
<circle cx="1154.1" cy="275.3" r="4.85" fill="#3e5c91"/>
<circle cx="1149.2" cy="286.7" r="4.85" fill="#3d7f8e"/>
<circle cx="1124.2" cy="294.6" r="4.85" fill="#3e5c91"/>
<circle cx="1133.2" cy="294.3" r="4.85" fill="#4aa08a"/>
<circle cx="1141.5" cy="294.2" r="4.85" fill="#3e5c91"/>
<circle cx="1143.3" cy="297.6" r="4.85" fill="#3e5c91"/>
<circle cx="1139.4" cy="308.5" r="4.85" fill="#3e5c91"/>
<circle cx="1128.4" cy="318" r="4.85" fill="#472f7d"/>
<circle cx="1130.2" cy="341.2" r="4.85" fill="#3d7f8e"/>
<circle cx="1144.8" cy="345.7" r="4.85" fill="#472f7d"/>
<circle cx="1154.9" cy="343.3" r="4.85" fill="#472f7d"/>
<circle cx="1149.2" cy="349.4" r="4.85" fill="#4aa08a"/>
<circle cx="1172.7" cy="347.9" r="4.85" fill="#472f7d"/>
<circle cx="1188.7" cy="342.7" r="4.85" fill="#472f7d"/>
<circle cx="1228.1" cy="345.2" r="4.85" fill="#472f7d"/>
<circle cx="1230.8" cy="343.7" r="4.85" fill="#472f7d"/>
<circle cx="1246.8" cy="240" r="4.85" fill="#4aa08a"/>
<circle cx="1266.3" cy="238.8" r="4.85" fill="#6cc274"/>
<circle cx="1234.9" cy="258.3" r="4.85" fill="#3e5c91"/>
<circle cx="1229.9" cy="265.6" r="4.85" fill="#3e5c91"/>
<circle cx="1216.3" cy="276.3" r="4.85" fill="#4aa08a"/>
<circle cx="1209.6" cy="282.7" r="4.85" fill="#3e5c91"/>
<circle cx="1247.4" cy="279.4" r="4.85" fill="#472f7d"/>
<circle cx="1221" cy="289.4" r="4.85" fill="#4aa08a"/>
<circle cx="1223.9" cy="292.7" r="4.85" fill="#4aa08a"/>
<circle cx="1253.1" cy="315" r="4.85" fill="#4aa08a"/>
<circle cx="1234.8" cy="319.9" r="4.85" fill="#3e5c91"/>
<circle cx="1239.7" cy="321.4" r="4.85" fill="#3d7f8e"/>
<circle cx="1272.9" cy="326.6" r="4.85" fill="#472f7d"/>
<circle cx="1285.4" cy="349.7" r="4.85" fill="#4aa08a"/>
<circle cx="1371.7" cy="231.8" r="4.85" fill="#3e5c91"/>
<circle cx="1457.7" cy="242.8" r="4.85" fill="#4aa08a"/>
<circle cx="1381.4" cy="283.5" r="4.85" fill="#3d7f8e"/>
<circle cx="1374.1" cy="294.3" r="4.85" fill="#3e5c91"/>
<circle cx="1361" cy="301.3" r="4.85" fill="#3d7f8e"/>
<circle cx="1368.9" cy="318" r="4.85" fill="#4aa08a"/>
<circle cx="1371.4" cy="320.7" r="4.85" fill="#4aa08a"/>
<circle cx="1373.8" cy="315.7" r="4.85" fill="#3e5c91"/>
<circle cx="1376.3" cy="332.6" r="4.85" fill="#472f7d"/>
<circle cx="1380" cy="336.3" r="4.85" fill="#a6db55"/>
<circle cx="1380.9" cy="340.4" r="4.85" fill="#3d7f8e"/>
<circle cx="1366.3" cy="342.5" r="4.85" fill="#3e5c91"/>
<circle cx="1606.4" cy="257.4" r="4.85" fill="#472f7d"/>
<circle cx="1610.4" cy="279.1" r="4.85" fill="#3e5c91"/>
<circle cx="1603.4" cy="288.5" r="4.85" fill="#3e5c91"/>
<circle cx="1599.2" cy="306.8" r="4.85" fill="#4aa08a"/>
<circle cx="1605.3" cy="309.5" r="4.85" fill="#472f7d"/>
<circle cx="1694.8" cy="296.5" r="4.85" fill="#3d7f8e"/>
<circle cx="1676.8" cy="331.1" r="4.85" fill="#3e5c91"/>
<circle cx="798.3" cy="359.7" r="4.85" fill="#f8e650"/>
<circle cx="807.6" cy="358.2" r="4.85" fill="#472f7d"/>
<circle cx="800.6" cy="369.3" r="4.85" fill="#3d7f8e"/>
<circle cx="798.9" cy="363.7" r="4.85" fill="#a6db55"/>
<circle cx="791.6" cy="369.3" r="4.85" fill="#6cc274"/>
<circle cx="814.3" cy="367.4" r="4.85" fill="#3d7f8e"/>
<circle cx="830.6" cy="365.5" r="4.85" fill="#a6db55"/>
<circle cx="816.5" cy="376.5" r="4.85" fill="#4aa08a"/>
<circle cx="825.3" cy="381.7" r="4.85" fill="#4aa08a"/>
<circle cx="793.4" cy="387.2" r="4.85" fill="#6cc274"/>
<circle cx="810.5" cy="386.9" r="4.85" fill="#3d7f8e"/>
<circle cx="808.6" cy="394.6" r="4.85" fill="#3d7f8e"/>
<circle cx="799.1" cy="393.5" r="4.85" fill="#3e5c91"/>
<circle cx="792.7" cy="397.9" r="4.85" fill="#4aa08a"/>
<circle cx="815.7" cy="399.4" r="4.85" fill="#3e5c91"/>
<circle cx="816.2" cy="400.9" r="4.85" fill="#6cc274"/>
<circle cx="821.7" cy="403.9" r="4.85" fill="#3e5c91"/>
<circle cx="795.4" cy="404.8" r="4.85" fill="#a6db55"/>
<circle cx="801.9" cy="403.3" r="4.85" fill="#f8e650"/>
<circle cx="806.1" cy="402.4" r="4.85" fill="#f8e650"/>
<circle cx="806.8" cy="415.8" r="4.85" fill="#472f7d"/>
<circle cx="803.1" cy="410.3" r="4.85" fill="#3d7f8e"/>
<circle cx="805.3" cy="413.7" r="4.85" fill="#3d7f8e"/>
<circle cx="815.7" cy="417.3" r="4.85" fill="#f8e650"/>
<circle cx="816.8" cy="414.3" r="4.85" fill="#6cc274"/>
<circle cx="821.2" cy="419.2" r="4.85" fill="#4aa08a"/>
<circle cx="823.9" cy="425.9" r="4.85" fill="#3d7f8e"/>
<circle cx="833.9" cy="417.3" r="4.85" fill="#4aa08a"/>
<circle cx="773.3" cy="422.2" r="4.85" fill="#3e5c91"/>
<circle cx="773.8" cy="428.9" r="4.85" fill="#a6db55"/>
<circle cx="792.4" cy="428.4" r="4.85" fill="#f8e650"/>
<circle cx="801.6" cy="424.7" r="4.85" fill="#4aa08a"/>
<circle cx="811.3" cy="428" r="4.85" fill="#3d7f8e"/>
<circle cx="804.6" cy="432.6" r="4.85" fill="#4aa08a"/>
<circle cx="791.6" cy="433.8" r="4.85" fill="#3d7f8e"/>
<circle cx="795.7" cy="436.8" r="4.85" fill="#3d7f8e"/>
<circle cx="803.5" cy="436.3" r="4.85" fill="#3d7f8e"/>
<circle cx="813.2" cy="438.8" r="4.85" fill="#3e5c91"/>
<circle cx="821" cy="441.2" r="4.85" fill="#4aa08a"/>
<circle cx="816.2" cy="440" r="4.85" fill="#3e5c91"/>
<circle cx="801.6" cy="446.7" r="4.85" fill="#f8e650"/>
<circle cx="801.3" cy="443.5" r="4.85" fill="#6cc274"/>
<circle cx="790.9" cy="451.6" r="4.85" fill="#3e5c91"/>
<circle cx="796.8" cy="452.7" r="4.85" fill="#3e5c91"/>
<circle cx="796.8" cy="460.9" r="4.85" fill="#472f7d"/>
<circle cx="791.2" cy="465.6" r="4.85" fill="#3e5c91"/>
<circle cx="801.9" cy="466.1" r="4.85" fill="#6cc274"/>
<circle cx="828.4" cy="462.4" r="4.85" fill="#4aa08a"/>
<circle cx="816.5" cy="469" r="4.85" fill="#3d7f8e"/>
<circle cx="812.9" cy="470.2" r="4.85" fill="#f8e650"/>
<circle cx="790" cy="470.5" r="4.85" fill="#4aa08a"/>
<circle cx="791.2" cy="477.2" r="4.85" fill="#4aa08a"/>
<circle cx="793.7" cy="473.5" r="4.85" fill="#f8e650"/>
<circle cx="821.4" cy="475.3" r="4.85" fill="#3d7f8e"/>
<circle cx="827.2" cy="475.7" r="4.85" fill="#3d7f8e"/>
<circle cx="843.3" cy="385.3" r="4.85" fill="#4aa08a"/>
<circle cx="850" cy="387.2" r="4.85" fill="#3e5c91"/>
<circle cx="873" cy="396.6" r="4.85" fill="#f8e650"/>
<circle cx="838.8" cy="432.6" r="4.85" fill="#3d7f8e"/>
<circle cx="843.6" cy="432.1" r="4.85" fill="#3d7f8e"/>
<circle cx="839" cy="439.4" r="4.85" fill="#a6db55"/>
<circle cx="849.2" cy="442" r="4.85" fill="#4aa08a"/>
<circle cx="846.2" cy="446.4" r="4.85" fill="#4aa08a"/>
<circle cx="849.2" cy="456.4" r="4.85" fill="#6cc274"/>
<circle cx="845.5" cy="452.7" r="4.85" fill="#4aa08a"/>
<circle cx="846.2" cy="460.4" r="4.85" fill="#3d7f8e"/>
<circle cx="851.2" cy="462.6" r="4.85" fill="#472f7d"/>
<circle cx="860.1" cy="465" r="4.85" fill="#3e5c91"/>
<circle cx="887.2" cy="364.1" r="4.85" fill="#6cc274"/>
<circle cx="886.4" cy="359.2" r="4.85" fill="#3d7f8e"/>
<circle cx="897.6" cy="369.9" r="4.85" fill="#3d7f8e"/>
<circle cx="896" cy="380.2" r="4.85" fill="#3e5c91"/>
<circle cx="926.6" cy="366.4" r="4.85" fill="#3d7f8e"/>
<circle cx="938.8" cy="368.3" r="4.85" fill="#a6db55"/>
<circle cx="945.5" cy="372.8" r="4.85" fill="#3e5c91"/>
<circle cx="952.6" cy="392.4" r="4.85" fill="#3e5c91"/>
<circle cx="949.2" cy="390.5" r="4.85" fill="#472f7d"/>
<circle cx="903.5" cy="398.7" r="4.85" fill="#472f7d"/>
<circle cx="897.6" cy="403.3" r="4.85" fill="#4aa08a"/>
<circle cx="911" cy="404.3" r="4.85" fill="#4aa08a"/>
<circle cx="907.6" cy="405.1" r="4.85" fill="#3e5c91"/>
<circle cx="910.5" cy="413.1" r="4.85" fill="#3d7f8e"/>
<circle cx="901.6" cy="416.2" r="4.85" fill="#4aa08a"/>
<circle cx="891.3" cy="423.7" r="4.85" fill="#f8e650"/>
<circle cx="890.9" cy="418.5" r="4.85" fill="#3d7f8e"/>
<circle cx="927.2" cy="427.4" r="4.85" fill="#6cc274"/>
<circle cx="903.5" cy="433.3" r="4.85" fill="#3e5c91"/>
<circle cx="897.9" cy="440" r="4.85" fill="#4aa08a"/>
<circle cx="891.2" cy="441.1" r="4.85" fill="#3d7f8e"/>
<circle cx="883.8" cy="443.8" r="4.85" fill="#3e5c91"/>
<circle cx="921" cy="445.7" r="4.85" fill="#472f7d"/>
<circle cx="927.4" cy="447" r="4.85" fill="#3d7f8e"/>
<circle cx="922.1" cy="452.4" r="4.85" fill="#3d7f8e"/>
<circle cx="890.9" cy="450" r="4.85" fill="#3e5c91"/>
<circle cx="895.4" cy="450" r="4.85" fill="#472f7d"/>
<circle cx="888.7" cy="456.4" r="4.85" fill="#3d7f8e"/>
<circle cx="893.9" cy="458.6" r="4.85" fill="#3e5c91"/>
<circle cx="890.1" cy="460.9" r="4.85" fill="#3d7f8e"/>
<circle cx="893.9" cy="463.8" r="4.85" fill="#3d7f8e"/>
<circle cx="892.1" cy="464.3" r="4.85" fill="#3e5c91"/>
<circle cx="898.3" cy="475.7" r="4.85" fill="#3e5c91"/>
<circle cx="906.5" cy="474.3" r="4.85" fill="#4aa08a"/>
<circle cx="912.8" cy="473.2" r="4.85" fill="#4aa08a"/>
<circle cx="983.2" cy="366.4" r="4.85" fill="#3e5c91"/>
<circle cx="980.5" cy="363.1" r="4.85" fill="#4aa08a"/>
<circle cx="986.9" cy="378.6" r="4.85" fill="#3e5c91"/>
<circle cx="981.7" cy="390.5" r="4.85" fill="#3d7f8e"/>
<circle cx="986.1" cy="389.4" r="4.85" fill="#3e5c91"/>
<circle cx="987.6" cy="399.9" r="4.85" fill="#3d7f8e"/>
<circle cx="986.1" cy="406.5" r="4.85" fill="#f8e650"/>
<circle cx="983.9" cy="417.3" r="4.85" fill="#4aa08a"/>
<circle cx="988.4" cy="425.1" r="4.85" fill="#472f7d"/>
<circle cx="982.9" cy="442" r="4.85" fill="#3d7f8e"/>
<circle cx="981.4" cy="446.7" r="4.85" fill="#4aa08a"/>
<circle cx="986.1" cy="454.2" r="4.85" fill="#3e5c91"/>
<circle cx="982.9" cy="458.6" r="4.85" fill="#4aa08a"/>
<circle cx="981.4" cy="463.8" r="4.85" fill="#4aa08a"/>
<circle cx="1001.2" cy="379.8" r="4.85" fill="#4aa08a"/>
<circle cx="1003.8" cy="395.4" r="4.85" fill="#4aa08a"/>
<circle cx="996.7" cy="393.6" r="4.85" fill="#3e5c91"/>
<circle cx="1000.1" cy="405.8" r="4.85" fill="#4aa08a"/>
<circle cx="996.7" cy="401.3" r="4.85" fill="#472f7d"/>
<circle cx="992.2" cy="412.8" r="4.85" fill="#3d7f8e"/>
<circle cx="993" cy="421.7" r="4.85" fill="#6cc274"/>
<circle cx="1005.6" cy="429.6" r="4.85" fill="#472f7d"/>
<circle cx="1003.4" cy="426.6" r="4.85" fill="#6cc274"/>
<circle cx="994.9" cy="429.3" r="4.85" fill="#3d7f8e"/>
<circle cx="993" cy="447" r="4.85" fill="#472f7d"/>
<circle cx="1017.5" cy="364.1" r="4.85" fill="#3e5c91"/>
<circle cx="1019.8" cy="367.6" r="4.85" fill="#3e5c91"/>
<circle cx="1034.6" cy="365.3" r="4.85" fill="#3e5c91"/>
<circle cx="1012.6" cy="371.1" r="4.85" fill="#4aa08a"/>
<circle cx="1078.1" cy="399.1" r="4.85" fill="#3d7f8e"/>
<circle cx="1083" cy="401.8" r="4.85" fill="#4aa08a"/>
<circle cx="1082.3" cy="432.7" r="4.85" fill="#472f7d"/>
<circle cx="1080.9" cy="457.6" r="4.85" fill="#3d7f8e"/>
<circle cx="1126.9" cy="370.1" r="4.85" fill="#3e5c91"/>
<circle cx="1138.8" cy="369.6" r="4.85" fill="#472f7d"/>
<circle cx="1133.2" cy="368.6" r="4.85" fill="#3e5c91"/>
<circle cx="1135.1" cy="375.3" r="4.85" fill="#472f7d"/>
<circle cx="1140.3" cy="379" r="4.85" fill="#3d7f8e"/>
<circle cx="1152.5" cy="363.4" r="4.85" fill="#4aa08a"/>
<circle cx="1153.7" cy="360.1" r="4.85" fill="#3e5c91"/>
<circle cx="1164.9" cy="357.7" r="4.85" fill="#3d7f8e"/>
<circle cx="1159.2" cy="371.9" r="4.85" fill="#6cc274"/>
<circle cx="1153.1" cy="371.3" r="4.85" fill="#3e5c91"/>
<circle cx="1152.9" cy="382.4" r="4.85" fill="#440d54"/>
<circle cx="1154.1" cy="389.9" r="4.85" fill="#3e5c91"/>
<circle cx="1192.1" cy="369.6" r="4.85" fill="#3e5c91"/>
<circle cx="1219.6" cy="378" r="4.85" fill="#3e5c91"/>
<circle cx="1214" cy="393.9" r="4.85" fill="#472f7d"/>
<circle cx="1129.9" cy="405.1" r="4.85" fill="#472f7d"/>
<circle cx="1137.6" cy="403.1" r="4.85" fill="#472f7d"/>
<circle cx="1148.2" cy="408.3" r="4.85" fill="#472f7d"/>
<circle cx="1135.5" cy="417.3" r="4.85" fill="#3e5c91"/>
<circle cx="1153.4" cy="415.6" r="4.85" fill="#3d7f8e"/>
<circle cx="1219.2" cy="419.9" r="4.85" fill="#3d7f8e"/>
<circle cx="1158.2" cy="430.4" r="4.85" fill="#472f7d"/>
<circle cx="1160.4" cy="434.8" r="4.85" fill="#472f7d"/>
<circle cx="1162.6" cy="439" r="4.85" fill="#472f7d"/>
<circle cx="1134" cy="440" r="4.85" fill="#440d54"/>
<circle cx="1129.9" cy="435.9" r="4.85" fill="#3e5c91"/>
<circle cx="1195.1" cy="439.7" r="4.85" fill="#3e5c91"/>
<circle cx="1126.2" cy="460.4" r="4.85" fill="#3e5c91"/>
<circle cx="1128.7" cy="458.3" r="4.85" fill="#3e5c91"/>
<circle cx="1143.4" cy="461.3" r="4.85" fill="#472f7d"/>
<circle cx="1186.1" cy="471.1" r="4.85" fill="#440d54"/>
<circle cx="1235.2" cy="473.4" r="4.85" fill="#472f7d"/>
<circle cx="1253.2" cy="463.4" r="4.85" fill="#3e5c91"/>
<circle cx="1375.7" cy="357.1" r="4.85" fill="#3d7f8e"/>
<circle cx="1382.9" cy="381.8" r="4.85" fill="#3d7f8e"/>
<circle cx="1465.3" cy="378.3" r="4.85" fill="#3d7f8e"/>
<circle cx="1411.1" cy="389.6" r="4.85" fill="#472f7d"/>
<circle cx="1390" cy="406" r="4.85" fill="#472f7d"/>
<circle cx="1401.6" cy="412.8" r="4.85" fill="#3d7f8e"/>
<circle cx="1394.5" cy="414.3" r="4.85" fill="#3e5c91"/>
<circle cx="1411.7" cy="428.6" r="4.85" fill="#472f7d"/>
<circle cx="1371" cy="435.4" r="4.85" fill="#3e5c91"/>
<circle cx="1377.2" cy="453.6" r="4.85" fill="#3e5c91"/>
<circle cx="1395.4" cy="452.4" r="4.85" fill="#472f7d"/>
<circle cx="1440.3" cy="473.2" r="4.85" fill="#440d54"/>
<circle cx="1609.6" cy="355.4" r="4.85" fill="#3d7f8e"/>
<circle cx="1628.7" cy="408.9" r="4.85" fill="#3e5c91"/>
<circle cx="1637" cy="434.8" r="4.85" fill="#f8e650"/>
<circle cx="1714.7" cy="439.3" r="4.85" fill="#472f7d"/>
<circle cx="1688.8" cy="466.4" r="4.85" fill="#3e5c91"/>
<circle cx="820.8" cy="539.6" r="4.85" fill="#4aa08a"/>
<circle cx="811.7" cy="552.7" r="4.85" fill="#472f7d"/>
<circle cx="808.6" cy="557.3" r="4.85" fill="#3e5c91"/>
<circle cx="829.3" cy="553.9" r="4.85" fill="#6cc274"/>
<circle cx="842.1" cy="553.3" r="4.85" fill="#6cc274"/>
<circle cx="844.8" cy="552.1" r="4.85" fill="#6cc274"/>
<circle cx="840.3" cy="559.5" r="4.85" fill="#a6db55"/>
<circle cx="796.2" cy="560.7" r="4.85" fill="#f8e650"/>
<circle cx="802.6" cy="570.4" r="4.85" fill="#a6db55"/>
<circle cx="807.1" cy="575.6" r="4.85" fill="#3e5c91"/>
<circle cx="840.9" cy="576.5" r="4.85" fill="#3d7f8e"/>
<circle cx="845.8" cy="576.9" r="4.85" fill="#4aa08a"/>
<circle cx="855.8" cy="577.1" r="4.85" fill="#f8e650"/>
<circle cx="799.7" cy="586" r="4.85" fill="#472f7d"/>
<circle cx="794.2" cy="580.8" r="4.85" fill="#4aa08a"/>
<circle cx="792.7" cy="594.2" r="4.85" fill="#3e5c91"/>
<circle cx="794.2" cy="590.5" r="4.85" fill="#3d7f8e"/>
<circle cx="801.3" cy="589.6" r="4.85" fill="#3d7f8e"/>
<circle cx="792.7" cy="606.1" r="4.85" fill="#3e5c91"/>
<circle cx="792.2" cy="599.4" r="4.85" fill="#3d7f8e"/>
<circle cx="801.3" cy="601.2" r="4.85" fill="#3d7f8e"/>
<circle cx="796" cy="616.1" r="4.85" fill="#3e5c91"/>
<circle cx="796.5" cy="611.6" r="4.85" fill="#3d7f8e"/>
<circle cx="822.3" cy="601.9" r="4.85" fill="#472f7d"/>
<circle cx="832.1" cy="605.7" r="4.85" fill="#3e5c91"/>
<circle cx="826.3" cy="610" r="4.85" fill="#4aa08a"/>
<circle cx="812.5" cy="617" r="4.85" fill="#3d7f8e"/>
<circle cx="843.9" cy="617.7" r="4.85" fill="#6cc274"/>
<circle cx="755.8" cy="609.2" r="4.85" fill="#3d7f8e"/>
<circle cx="782" cy="624.4" r="4.85" fill="#a6db55"/>
<circle cx="764.1" cy="631.8" r="4.85" fill="#a6db55"/>
<circle cx="798.3" cy="623.5" r="4.85" fill="#4aa08a"/>
<circle cx="812.8" cy="628" r="4.85" fill="#a6db55"/>
<circle cx="807.3" cy="624.7" r="4.85" fill="#6cc274"/>
<circle cx="825.4" cy="630.1" r="4.85" fill="#4aa08a"/>
<circle cx="791.9" cy="635.9" r="4.85" fill="#6cc274"/>
<circle cx="792.4" cy="639.6" r="4.85" fill="#4aa08a"/>
<circle cx="793.7" cy="636.9" r="4.85" fill="#3d7f8e"/>
<circle cx="800.4" cy="635.9" r="4.85" fill="#3d7f8e"/>
<circle cx="812.3" cy="636.6" r="4.85" fill="#3d7f8e"/>
<circle cx="801.3" cy="645.7" r="4.85" fill="#f8e650"/>
<circle cx="814.4" cy="649.4" r="4.85" fill="#4aa08a"/>
<circle cx="841" cy="637.5" r="4.85" fill="#3e5c91"/>
<circle cx="840.4" cy="649" r="4.85" fill="#472f7d"/>
<circle cx="857.4" cy="637.4" r="4.85" fill="#4aa08a"/>
<circle cx="858.3" cy="631.1" r="4.85" fill="#3e5c91"/>
<circle cx="796" cy="655.5" r="4.85" fill="#3e5c91"/>
<circle cx="809.5" cy="660.1" r="4.85" fill="#3e5c91"/>
<circle cx="902.8" cy="540.9" r="4.85" fill="#3d7f8e"/>
<circle cx="886" cy="550.7" r="4.85" fill="#3d7f8e"/>
<circle cx="893.4" cy="552.8" r="4.85" fill="#3d7f8e"/>
<circle cx="905.8" cy="575.3" r="4.85" fill="#3e5c91"/>
<circle cx="905.3" cy="581" r="4.85" fill="#3e5c91"/>
<circle cx="886" cy="586.3" r="4.85" fill="#3d7f8e"/>
<circle cx="887" cy="598.2" r="4.85" fill="#3d7f8e"/>
<circle cx="888.1" cy="606.4" r="4.85" fill="#a6db55"/>
<circle cx="907.4" cy="605.8" r="4.85" fill="#472f7d"/>
<circle cx="892.8" cy="626.8" r="4.85" fill="#4aa08a"/>
<circle cx="886.9" cy="631.4" r="4.85" fill="#3d7f8e"/>
<circle cx="886.4" cy="636.2" r="4.85" fill="#3d7f8e"/>
<circle cx="891.2" cy="657.9" r="4.85" fill="#6cc274"/>
<circle cx="957.6" cy="553.3" r="4.85" fill="#3d7f8e"/>
<circle cx="949.4" cy="572.6" r="4.85" fill="#3d7f8e"/>
<circle cx="934" cy="580.8" r="4.85" fill="#472f7d"/>
<circle cx="940.1" cy="589" r="4.85" fill="#3e5c91"/>
<circle cx="980.9" cy="559.2" r="4.85" fill="#3e5c91"/>
<circle cx="986.1" cy="568.6" r="4.85" fill="#4aa08a"/>
<circle cx="986.9" cy="602.8" r="4.85" fill="#3d7f8e"/>
<circle cx="980.6" cy="610.6" r="4.85" fill="#4aa08a"/>
<circle cx="989.1" cy="621.7" r="4.85" fill="#3d7f8e"/>
<circle cx="981.2" cy="646.4" r="4.85" fill="#3e5c91"/>
<circle cx="1027.2" cy="583.5" r="4.85" fill="#3d7f8e"/>
<circle cx="1030.5" cy="624.4" r="4.85" fill="#f8e650"/>
<circle cx="1080.8" cy="573.4" r="4.85" fill="#3e5c91"/>
<circle cx="1088.7" cy="598.7" r="4.85" fill="#472f7d"/>
<circle cx="1087.5" cy="593.8" r="4.85" fill="#3e5c91"/>
<circle cx="1110.5" cy="583.5" r="4.85" fill="#3e5c91"/>
<circle cx="1125.7" cy="579.8" r="4.85" fill="#3d7f8e"/>
<circle cx="1130.5" cy="589.3" r="4.85" fill="#3e5c91"/>
<circle cx="1129.1" cy="602.4" r="4.85" fill="#3e5c91"/>
<circle cx="1130.3" cy="596.9" r="4.85" fill="#6cc274"/>
<circle cx="1126.5" cy="611" r="4.85" fill="#472f7d"/>
<circle cx="1127.6" cy="606.8" r="4.85" fill="#3e5c91"/>
<circle cx="1138.8" cy="555.7" r="4.85" fill="#3d7f8e"/>
<circle cx="1140.6" cy="573.1" r="4.85" fill="#6cc274"/>
<circle cx="1143.9" cy="581.7" r="4.85" fill="#3e5c91"/>
<circle cx="1153.4" cy="580.8" r="4.85" fill="#472f7d"/>
<circle cx="1155.2" cy="583.8" r="4.85" fill="#472f7d"/>
<circle cx="1159.9" cy="592.4" r="4.85" fill="#3d7f8e"/>
<circle cx="1177.5" cy="543.9" r="4.85" fill="#3d7f8e"/>
<circle cx="1173.5" cy="565.5" r="4.85" fill="#472f7d"/>
<circle cx="1190.6" cy="571.9" r="4.85" fill="#472f7d"/>
<circle cx="1180.9" cy="589.7" r="4.85" fill="#3e5c91"/>
<circle cx="1166.9" cy="622.6" r="4.85" fill="#3e5c91"/>
<circle cx="1125" cy="631" r="4.85" fill="#3e5c91"/>
<circle cx="1133.6" cy="630.4" r="4.85" fill="#3d7f8e"/>
<circle cx="1141.3" cy="636.2" r="4.85" fill="#4aa08a"/>
<circle cx="1132.1" cy="643.3" r="4.85" fill="#472f7d"/>
<circle cx="1129.1" cy="640.3" r="4.85" fill="#3e5c91"/>
<circle cx="1147.7" cy="644.3" r="4.85" fill="#440d54"/>
<circle cx="1129.1" cy="650.4" r="4.85" fill="#472f7d"/>
<circle cx="1130.3" cy="656" r="4.85" fill="#3d7f8e"/>
<circle cx="1193.3" cy="632.1" r="4.85" fill="#3e5c91"/>
<circle cx="1209.9" cy="639" r="4.85" fill="#3e5c91"/>
<circle cx="1214.4" cy="554.2" r="4.85" fill="#4aa08a"/>
<circle cx="1251.5" cy="539.4" r="4.85" fill="#3d7f8e"/>
<circle cx="1244.8" cy="575.1" r="4.85" fill="#3d7f8e"/>
<circle cx="1256.8" cy="573.8" r="4.85" fill="#3d7f8e"/>
<circle cx="1227.6" cy="582.1" r="4.85" fill="#472f7d"/>
<circle cx="1235.8" cy="583.8" r="4.85" fill="#4aa08a"/>
<circle cx="1221.7" cy="589.6" r="4.85" fill="#3e5c91"/>
<circle cx="1216.9" cy="599" r="4.85" fill="#472f7d"/>
<circle cx="1235.8" cy="610.4" r="4.85" fill="#3d7f8e"/>
<circle cx="1226.3" cy="618.6" r="4.85" fill="#472f7d"/>
<circle cx="1271.5" cy="602.4" r="4.85" fill="#472f7d"/>
<circle cx="1266.6" cy="630.8" r="4.85" fill="#4aa08a"/>
<circle cx="1247.1" cy="654.8" r="4.85" fill="#3e5c91"/>
<circle cx="1077.8" cy="660.1" r="4.85" fill="#3e5c91"/>
<circle cx="1271.2" cy="660.4" r="4.85" fill="#3d7f8e"/>
<circle cx="1313.8" cy="554.8" r="4.85" fill="#3e5c91"/>
<circle cx="1371.2" cy="543.5" r="4.85" fill="#3e5c91"/>
<circle cx="1373.9" cy="546.4" r="4.85" fill="#472f7d"/>
<circle cx="1403.7" cy="540.2" r="4.85" fill="#472f7d"/>
<circle cx="1363.2" cy="576.8" r="4.85" fill="#3d7f8e"/>
<circle cx="1366.2" cy="578.3" r="4.85" fill="#4aa08a"/>
<circle cx="1381.4" cy="598.5" r="4.85" fill="#472f7d"/>
<circle cx="1348" cy="605.4" r="4.85" fill="#3d7f8e"/>
<circle cx="1476" cy="572.3" r="4.85" fill="#4aa08a"/>
<circle cx="1462.9" cy="622.6" r="4.85" fill="#6cc274"/>
<circle cx="1299.8" cy="652.4" r="4.85" fill="#4aa08a"/>
<circle cx="1366.2" cy="648.2" r="4.85" fill="#3e5c91"/>
<circle cx="1389.4" cy="651.8" r="4.85" fill="#3d7f8e"/>
<circle cx="1456.4" cy="651.5" r="4.85" fill="#6cc274"/>
<circle cx="1600.1" cy="558.3" r="4.85" fill="#472f7d"/>
<circle cx="1603.7" cy="586.3" r="4.85" fill="#3d7f8e"/>
<circle cx="1604.6" cy="604.2" r="4.85" fill="#3e5c91"/>
<circle cx="1608.5" cy="638.1" r="4.85" fill="#3e5c91"/>
<circle cx="1724.8" cy="556.8" r="4.85" fill="#472f7d"/>
<circle cx="1717.7" cy="590.8" r="4.85" fill="#472f7d"/>
<circle cx="1705.8" cy="595.5" r="4.85" fill="#3e5c91"/>
<circle cx="1823.6" cy="539" r="4.85" fill="#472f7d"/>
<circle cx="1696.5" cy="658" r="4.85" fill="#472f7d"/>
<circle cx="1776" cy="678.6" r="4.85" fill="#3d7f8e"/>
<circle cx="1614.1" cy="708.9" r="4.85" fill="#472f7d"/>
<circle cx="1679.6" cy="705.4" r="4.85" fill="#440d54"/>
<circle cx="1537.9" cy="721.1" r="4.85" fill="#3e5c91"/>
<circle cx="1787" cy="727.1" r="4.85" fill="#3e5c91"/>
<circle cx="1401.9" cy="733.6" r="4.85" fill="#3e5c91"/>
<circle cx="1364.1" cy="737.2" r="4.85" fill="#4aa08a"/>
<circle cx="1520.4" cy="747.3" r="4.85" fill="#3e5c91"/>
<circle cx="1362.9" cy="753" r="4.85" fill="#440d54"/>
<circle cx="1371" cy="756.2" r="4.85" fill="#3e5c91"/>
<circle cx="1364.4" cy="760.7" r="4.85" fill="#3e5c91"/>
<circle cx="1614.1" cy="755.1" r="4.85" fill="#3e5c91"/>
<circle cx="1610.8" cy="769" r="4.85" fill="#3e5c91"/>
<circle cx="1630.5" cy="765.5" r="4.85" fill="#472f7d"/>
<circle cx="1671.2" cy="763.7" r="4.85" fill="#472f7d"/>
<circle cx="801.9" cy="666" r="4.85" fill="#a6db55"/>
<circle cx="826.5" cy="668.2" r="4.85" fill="#3e5c91"/>
<circle cx="841.3" cy="666" r="4.85" fill="#3e5c91"/>
<circle cx="791.6" cy="678.6" r="4.85" fill="#3e5c91"/>
<circle cx="795.7" cy="674.1" r="4.85" fill="#4aa08a"/>
<circle cx="773.9" cy="684.1" r="4.85" fill="#a6db55"/>
<circle cx="820.2" cy="679.8" r="4.85" fill="#3d7f8e"/>
<circle cx="824.7" cy="679.8" r="4.85" fill="#4aa08a"/>
<circle cx="829.6" cy="681.9" r="4.85" fill="#3d7f8e"/>
<circle cx="838.1" cy="683.4" r="4.85" fill="#472f7d"/>
<circle cx="846.2" cy="684.6" r="4.85" fill="#3d7f8e"/>
<circle cx="808" cy="687.5" r="4.85" fill="#3e5c91"/>
<circle cx="804.9" cy="686.3" r="4.85" fill="#4aa08a"/>
<circle cx="796.8" cy="687.5" r="4.85" fill="#a6db55"/>
<circle cx="792.7" cy="697.9" r="4.85" fill="#6cc274"/>
<circle cx="796" cy="693.5" r="4.85" fill="#3d7f8e"/>
<circle cx="797.9" cy="701.7" r="4.85" fill="#6cc274"/>
<circle cx="795.4" cy="703.6" r="4.85" fill="#3d7f8e"/>
<circle cx="806.1" cy="702.9" r="4.85" fill="#3d7f8e"/>
<circle cx="810.8" cy="709.6" r="4.85" fill="#f8e650"/>
<circle cx="807.3" cy="707.9" r="4.85" fill="#3e5c91"/>
<circle cx="798.6" cy="710.3" r="4.85" fill="#3e5c91"/>
<circle cx="843.3" cy="709.9" r="4.85" fill="#3e5c91"/>
<circle cx="833.9" cy="718.5" r="4.85" fill="#3d7f8e"/>
<circle cx="805.3" cy="720.3" r="4.85" fill="#a6db55"/>
<circle cx="803.8" cy="726.2" r="4.85" fill="#3e5c91"/>
<circle cx="792.7" cy="726.5" r="4.85" fill="#6cc274"/>
<circle cx="791.6" cy="728.9" r="4.85" fill="#3d7f8e"/>
<circle cx="858.5" cy="727.6" r="4.85" fill="#3e5c91"/>
<circle cx="797.9" cy="740.1" r="4.85" fill="#3d7f8e"/>
<circle cx="840" cy="739.9" r="4.85" fill="#3d7f8e"/>
<circle cx="805.8" cy="745.3" r="4.85" fill="#4aa08a"/>
<circle cx="796" cy="749" r="4.85" fill="#6cc274"/>
<circle cx="817.5" cy="750" r="4.85" fill="#a6db55"/>
<circle cx="825.9" cy="747.2" r="4.85" fill="#3d7f8e"/>
<circle cx="778.4" cy="751.2" r="4.85" fill="#3d7f8e"/>
<circle cx="791.2" cy="757.2" r="4.85" fill="#472f7d"/>
<circle cx="803.4" cy="761.9" r="4.85" fill="#472f7d"/>
<circle cx="855.5" cy="754.9" r="4.85" fill="#6cc274"/>
<circle cx="792.4" cy="774.7" r="4.85" fill="#3d7f8e"/>
<circle cx="808.6" cy="773.8" r="4.85" fill="#f8e650"/>
<circle cx="815.7" cy="773.5" r="4.85" fill="#3e5c91"/>
<circle cx="806.2" cy="776.2" r="4.85" fill="#4aa08a"/>
<circle cx="840.4" cy="771.9" r="4.85" fill="#3e5c91"/>
<circle cx="844.5" cy="777.7" r="4.85" fill="#4aa08a"/>
<circle cx="829" cy="784.4" r="4.85" fill="#3e5c91"/>
<circle cx="791.6" cy="787.1" r="4.85" fill="#6cc274"/>
<circle cx="879.7" cy="671.2" r="4.85" fill="#3e5c91"/>
<circle cx="887.2" cy="669.7" r="4.85" fill="#3d7f8e"/>
<circle cx="893.1" cy="686" r="4.85" fill="#a6db55"/>
<circle cx="886.9" cy="697.9" r="4.85" fill="#3d7f8e"/>
<circle cx="892.8" cy="705.4" r="4.85" fill="#4aa08a"/>
<circle cx="889.3" cy="722.5" r="4.85" fill="#3e5c91"/>
<circle cx="897.7" cy="733.8" r="4.85" fill="#6cc274"/>
<circle cx="902.8" cy="740.1" r="4.85" fill="#3d7f8e"/>
<circle cx="885.4" cy="756.4" r="4.85" fill="#3d7f8e"/>
<circle cx="914.1" cy="673.7" r="4.85" fill="#4aa08a"/>
<circle cx="917.4" cy="686.8" r="4.85" fill="#3e5c91"/>
<circle cx="920.5" cy="699" r="4.85" fill="#4aa08a"/>
<circle cx="946.2" cy="675.3" r="4.85" fill="#4aa08a"/>
<circle cx="935.4" cy="767.9" r="4.85" fill="#3e5c91"/>
<circle cx="985.8" cy="680.1" r="4.85" fill="#a6db55"/>
<circle cx="980.9" cy="685.3" r="4.85" fill="#3e5c91"/>
<circle cx="982.1" cy="743.6" r="4.85" fill="#3e5c91"/>
<circle cx="989.1" cy="771.6" r="4.85" fill="#3d7f8e"/>
<circle cx="987.3" cy="785.4" r="4.85" fill="#3e5c91"/>
<circle cx="997.9" cy="689.8" r="4.85" fill="#3d7f8e"/>
<circle cx="1014.6" cy="690.4" r="4.85" fill="#4aa08a"/>
<circle cx="995.2" cy="715.8" r="4.85" fill="#3d7f8e"/>
<circle cx="1012.5" cy="740.4" r="4.85" fill="#3e5c91"/>
<circle cx="1001.8" cy="755.2" r="4.85" fill="#4aa08a"/>
<circle cx="992.2" cy="764.6" r="4.85" fill="#3d7f8e"/>
<circle cx="1015.7" cy="771.6" r="4.85" fill="#472f7d"/>
<circle cx="1005.2" cy="779.8" r="4.85" fill="#3e5c91"/>
<circle cx="996.4" cy="786.8" r="4.85" fill="#472f7d"/>
<circle cx="1039.3" cy="775.8" r="4.85" fill="#3e5c91"/>
<circle cx="1038.8" cy="768" r="4.85" fill="#4aa08a"/>
<circle cx="1076" cy="683.5" r="4.85" fill="#3e5c91"/>
<circle cx="1083" cy="685" r="4.85" fill="#3e5c91"/>
<circle cx="1075.9" cy="722.2" r="4.85" fill="#3e5c91"/>
<circle cx="1083.6" cy="733.5" r="4.85" fill="#3d7f8e"/>
<circle cx="1077.4" cy="760.7" r="4.85" fill="#4aa08a"/>
<circle cx="1125.4" cy="666.7" r="4.85" fill="#472f7d"/>
<circle cx="1130.3" cy="670.1" r="4.85" fill="#3d7f8e"/>
<circle cx="1159.6" cy="673.8" r="4.85" fill="#472f7d"/>
<circle cx="1166.6" cy="671.6" r="4.85" fill="#472f7d"/>
<circle cx="1182.3" cy="668.5" r="4.85" fill="#3e5c91"/>
<circle cx="1239.6" cy="667.9" r="4.85" fill="#4aa08a"/>
<circle cx="1131.2" cy="691.2" r="4.85" fill="#3d7f8e"/>
<circle cx="1130.3" cy="705.1" r="4.85" fill="#472f7d"/>
<circle cx="1128.1" cy="707.9" r="4.85" fill="#3d7f8e"/>
<circle cx="1124.7" cy="702.9" r="4.85" fill="#3e5c91"/>
<circle cx="1129.1" cy="701.4" r="4.85" fill="#3e5c91"/>
<circle cx="1134.2" cy="713.1" r="4.85" fill="#3d7f8e"/>
<circle cx="1177.5" cy="691" r="4.85" fill="#472f7d"/>
<circle cx="1200.7" cy="695.1" r="4.85" fill="#472f7d"/>
<circle cx="1281.4" cy="690.8" r="4.85" fill="#3d7f8e"/>
<circle cx="1237.9" cy="702" r="4.85" fill="#3d7f8e"/>
<circle cx="1237.6" cy="705.8" r="4.85" fill="#3d7f8e"/>
<circle cx="1234.2" cy="717.4" r="4.85" fill="#3e5c91"/>
<circle cx="1266.3" cy="714.3" r="4.85" fill="#a6db55"/>
<circle cx="1269.3" cy="744.1" r="4.85" fill="#3e5c91"/>
<circle cx="1269.3" cy="737.4" r="4.85" fill="#4aa08a"/>
<circle cx="1138.8" cy="745.6" r="4.85" fill="#3e5c91"/>
<circle cx="1136" cy="743.5" r="4.85" fill="#f8e650"/>
<circle cx="1128.8" cy="747.8" r="4.85" fill="#3d7f8e"/>
<circle cx="1124.4" cy="761" r="4.85" fill="#3d7f8e"/>
<circle cx="1126.6" cy="773.4" r="4.85" fill="#6cc274"/>
<circle cx="1159.3" cy="774" r="4.85" fill="#3d7f8e"/>
<circle cx="1128.2" cy="786.8" r="4.85" fill="#3d7f8e"/>
<circle cx="760.2" cy="850.2" r="4.85" fill="#3d7f8e"/>
<circle cx="792.4" cy="856.5" r="4.85" fill="#472f7d"/>
<circle cx="811" cy="867.8" r="4.85" fill="#3d7f8e"/>
<circle cx="777.4" cy="879.4" r="4.85" fill="#f8e650"/>
<circle cx="763.8" cy="882.2" r="4.85" fill="#3d7f8e"/>
<circle cx="767.5" cy="885.6" r="4.85" fill="#a6db55"/>
<circle cx="825.9" cy="881.6" r="4.85" fill="#3d7f8e"/>
<circle cx="829.4" cy="884.1" r="4.85" fill="#3d7f8e"/>
<circle cx="868.3" cy="886.2" r="4.85" fill="#a6db55"/>
<circle cx="778.5" cy="901.1" r="4.85" fill="#a6db55"/>
<circle cx="806.4" cy="900.8" r="4.85" fill="#4aa08a"/>
<circle cx="811.3" cy="904.1" r="4.85" fill="#3e5c91"/>
<circle cx="838.4" cy="901.5" r="4.85" fill="#3e5c91"/>
<circle cx="816.2" cy="918.8" r="4.85" fill="#4aa08a"/>
<circle cx="765.7" cy="923.4" r="4.85" fill="#a6db55"/>
<circle cx="779.9" cy="935.2" r="4.85" fill="#6cc274"/>
<circle cx="781.2" cy="927.4" r="4.85" fill="#4aa08a"/>
<circle cx="792.4" cy="932" r="4.85" fill="#3d7f8e"/>
<circle cx="803.4" cy="944.4" r="4.85" fill="#3e5c91"/>
<circle cx="798.6" cy="940.1" r="4.85" fill="#3d7f8e"/>
<circle cx="822.4" cy="932.6" r="4.85" fill="#3e5c91"/>
<circle cx="843.4" cy="962.4" r="4.85" fill="#4aa08a"/>
<circle cx="890.4" cy="863" r="4.85" fill="#472f7d"/>
<circle cx="892.8" cy="901.7" r="4.85" fill="#472f7d"/>
<circle cx="890.6" cy="898.4" r="4.85" fill="#3d7f8e"/>
<circle cx="896.4" cy="896.5" r="4.85" fill="#3d7f8e"/>
<circle cx="900.3" cy="910.2" r="4.85" fill="#472f7d"/>
<circle cx="887.2" cy="923.7" r="4.85" fill="#3d7f8e"/>
<circle cx="908" cy="926.1" r="4.85" fill="#3e5c91"/>
<circle cx="919.2" cy="932.6" r="4.85" fill="#6cc274"/>
<circle cx="930.6" cy="935" r="4.85" fill="#4aa08a"/>
<circle cx="887.6" cy="936.2" r="4.85" fill="#4aa08a"/>
<circle cx="892.1" cy="946.6" r="4.85" fill="#3d7f8e"/>
<circle cx="888.7" cy="942.2" r="4.85" fill="#472f7d"/>
<circle cx="935.7" cy="879.5" r="4.85" fill="#a6db55"/>
<circle cx="951.2" cy="953.3" r="4.85" fill="#3d7f8e"/>
<circle cx="886.4" cy="964" r="4.85" fill="#3d7f8e"/>
<circle cx="901.3" cy="965.5" r="4.85" fill="#3d7f8e"/>
<circle cx="911.4" cy="966.9" r="4.85" fill="#6cc274"/>
<circle cx="935.8" cy="972.4" r="4.85" fill="#3d7f8e"/>
<circle cx="983.5" cy="859.1" r="4.85" fill="#3e5c91"/>
<circle cx="983.9" cy="861.8" r="4.85" fill="#4aa08a"/>
<circle cx="989.1" cy="859.6" r="4.85" fill="#4aa08a"/>
<circle cx="982.9" cy="873.7" r="4.85" fill="#472f7d"/>
<circle cx="981.2" cy="878.5" r="4.85" fill="#4aa08a"/>
<circle cx="980.9" cy="892.6" r="4.85" fill="#3e5c91"/>
<circle cx="986.1" cy="894.8" r="4.85" fill="#3e5c91"/>
<circle cx="981.2" cy="901.2" r="4.85" fill="#3d7f8e"/>
<circle cx="981.2" cy="903" r="4.85" fill="#4aa08a"/>
<circle cx="987.6" cy="916.9" r="4.85" fill="#472f7d"/>
<circle cx="983.9" cy="938.1" r="4.85" fill="#3e5c91"/>
<circle cx="986.1" cy="935.5" r="4.85" fill="#3d7f8e"/>
<circle cx="981.2" cy="963.9" r="4.85" fill="#4aa08a"/>
<circle cx="993.7" cy="893.8" r="4.85" fill="#3e5c91"/>
<circle cx="1016" cy="894.1" r="4.85" fill="#3e5c91"/>
<circle cx="1031.1" cy="904.2" r="4.85" fill="#3d7f8e"/>
<circle cx="1006.4" cy="939.5" r="4.85" fill="#4aa08a"/>
<circle cx="1082.3" cy="889.8" r="4.85" fill="#3e5c91"/>
<circle cx="1078.8" cy="885.3" r="4.85" fill="#472f7d"/>
<circle cx="1091.3" cy="887" r="4.85" fill="#3e5c91"/>
<circle cx="1075.6" cy="907.6" r="4.85" fill="#472f7d"/>
<circle cx="1083.8" cy="908.7" r="4.85" fill="#6cc274"/>
<circle cx="1107.4" cy="908.7" r="4.85" fill="#3e5c91"/>
<circle cx="1078.2" cy="923.3" r="4.85" fill="#472f7d"/>
<circle cx="1076.3" cy="935.2" r="4.85" fill="#3d7f8e"/>
<circle cx="1079" cy="935.9" r="4.85" fill="#3d7f8e"/>
<circle cx="1075.7" cy="952.6" r="4.85" fill="#4aa08a"/>
<circle cx="1167.4" cy="850.2" r="4.85" fill="#a6db55"/>
<circle cx="1148.3" cy="868.8" r="4.85" fill="#4aa08a"/>
<circle cx="1147.6" cy="876.8" r="4.85" fill="#3e5c91"/>
<circle cx="1152.2" cy="883.5" r="4.85" fill="#3d7f8e"/>
<circle cx="1132.9" cy="878.8" r="4.85" fill="#3e5c91"/>
<circle cx="1130.6" cy="903.6" r="4.85" fill="#a6db55"/>
<circle cx="1132.6" cy="920.6" r="4.85" fill="#6cc274"/>
<circle cx="1132.1" cy="924" r="4.85" fill="#6cc274"/>
<circle cx="1130.2" cy="917.3" r="4.85" fill="#4aa08a"/>
<circle cx="1129.3" cy="926.1" r="4.85" fill="#3e5c91"/>
<circle cx="1167.7" cy="916.4" r="4.85" fill="#3d7f8e"/>
<circle cx="1141.2" cy="932.9" r="4.85" fill="#472f7d"/>
<circle cx="1132.9" cy="937.1" r="4.85" fill="#3e5c91"/>
<circle cx="1141" cy="940.4" r="4.85" fill="#4aa08a"/>
<circle cx="1129.1" cy="954.4" r="4.85" fill="#6cc274"/>
<circle cx="1200.6" cy="864.9" r="4.85" fill="#3e5c91"/>
<circle cx="1223.6" cy="861.7" r="4.85" fill="#3e5c91"/>
<circle cx="1235.1" cy="852.9" r="4.85" fill="#472f7d"/>
<circle cx="1238.1" cy="862.1" r="4.85" fill="#3e5c91"/>
<circle cx="1254.9" cy="865.2" r="4.85" fill="#3e5c91"/>
<circle cx="1234.9" cy="883.4" r="4.85" fill="#6cc274"/>
<circle cx="1234" cy="929.8" r="4.85" fill="#4aa08a"/>
<circle cx="1258.3" cy="941.9" r="4.85" fill="#6cc274"/>
<circle cx="1254.3" cy="956.3" r="4.85" fill="#472f7d"/>
<circle cx="1223.2" cy="959.4" r="4.85" fill="#3e5c91"/>
<circle cx="1368.3" cy="854.7" r="4.85" fill="#3e5c91"/>
<circle cx="1362.9" cy="871" r="4.85" fill="#3d7f8e"/>
<circle cx="1375.7" cy="870.4" r="4.85" fill="#472f7d"/>
<circle cx="1362.6" cy="907.9" r="4.85" fill="#3d7f8e"/>
<circle cx="1362" cy="903.5" r="4.85" fill="#3e5c91"/>
<circle cx="1386.4" cy="940.4" r="4.85" fill="#472f7d"/>
<circle cx="1439.4" cy="951.4" r="4.85" fill="#3e5c91"/>
<circle cx="1366.5" cy="960.6" r="4.85" fill="#3e5c91"/>
<circle cx="1367.4" cy="969" r="4.85" fill="#4aa08a"/>
<circle cx="1342.1" cy="984.1" r="4.85" fill="#3e5c91"/>
<circle cx="1456.4" cy="971.6" r="4.85" fill="#3d7f8e"/>
<circle cx="1629.6" cy="880.9" r="4.85" fill="#472f7d"/>
<circle cx="1603.4" cy="949.6" r="4.85" fill="#3e5c91"/>
<circle cx="1620.7" cy="948.7" r="4.85" fill="#472f7d"/>
<circle cx="1603.7" cy="1003.5" r="4.85" fill="#3e5c91"/>
<circle cx="1395.7" cy="1011.5" r="4.85" fill="#3e5c91"/>
<circle cx="1408.2" cy="1021" r="4.85" fill="#4aa08a"/>
<circle cx="1409" cy="1018.1" r="4.85" fill="#472f7d"/>
<circle cx="1362.3" cy="1018.7" r="4.85" fill="#440d54"/>
<circle cx="1362.9" cy="1039.2" r="4.85" fill="#472f7d"/>
<circle cx="1443.3" cy="1055" r="4.85" fill="#6cc274"/>
<circle cx="1302.2" cy="1062.7" r="4.85" fill="#4aa08a"/>
<circle cx="1378.1" cy="1065.7" r="4.85" fill="#3e5c91"/>
<circle cx="1366.2" cy="1077.6" r="4.85" fill="#3e5c91"/>
<circle cx="1404.6" cy="1081.2" r="4.85" fill="#4aa08a"/>
<circle cx="1368" cy="1089.5" r="4.85" fill="#3d7f8e"/>
<circle cx="1600.1" cy="1067.8" r="4.85" fill="#472f7d"/>
<circle cx="1605.2" cy="1066.6" r="4.85" fill="#3e5c91"/>
<circle cx="1599.5" cy="1078.5" r="4.85" fill="#472f7d"/>
<circle cx="1624.2" cy="1085.3" r="4.85" fill="#472f7d"/>
<circle cx="1629.3" cy="1096.9" r="4.85" fill="#472f7d"/>
<circle cx="802.6" cy="981.4" r="4.85" fill="#472f7d"/>
<circle cx="762.2" cy="986.4" r="4.85" fill="#6cc274"/>
<circle cx="831.4" cy="985.7" r="4.85" fill="#3d7f8e"/>
<circle cx="830.9" cy="989.9" r="4.85" fill="#3e5c91"/>
<circle cx="776.6" cy="995.4" r="4.85" fill="#a6db55"/>
<circle cx="760.8" cy="999.2" r="4.85" fill="#3d7f8e"/>
<circle cx="764.4" cy="1019" r="4.85" fill="#a6db55"/>
<circle cx="768" cy="1034.1" r="4.85" fill="#6cc274"/>
<circle cx="786.3" cy="1035.4" r="4.85" fill="#a6db55"/>
<circle cx="828.4" cy="1032.7" r="4.85" fill="#3e5c91"/>
<circle cx="829.1" cy="1034.8" r="4.85" fill="#a6db55"/>
<circle cx="841.5" cy="1032.6" r="4.85" fill="#f8e650"/>
<circle cx="845.2" cy="1041.5" r="4.85" fill="#3d7f8e"/>
<circle cx="833.3" cy="1043.6" r="4.85" fill="#6cc274"/>
<circle cx="841.3" cy="1050.1" r="4.85" fill="#3e5c91"/>
<circle cx="843.3" cy="1057.3" r="4.85" fill="#3e5c91"/>
<circle cx="773.9" cy="1060.2" r="4.85" fill="#3d7f8e"/>
<circle cx="801.9" cy="1059.5" r="4.85" fill="#3d7f8e"/>
<circle cx="806.4" cy="1063.8" r="4.85" fill="#3e5c91"/>
<circle cx="810.5" cy="1064.3" r="4.85" fill="#3e5c91"/>
<circle cx="794.2" cy="1067.4" r="4.85" fill="#6cc274"/>
<circle cx="808.3" cy="1075.1" r="4.85" fill="#3e5c91"/>
<circle cx="841.3" cy="1076.2" r="4.85" fill="#3e5c91"/>
<circle cx="841.8" cy="1072.4" r="4.85" fill="#3d7f8e"/>
<circle cx="793.4" cy="1089.9" r="4.85" fill="#3d7f8e"/>
<circle cx="806.5" cy="1090.3" r="4.85" fill="#f8e650"/>
<circle cx="791.9" cy="1097.3" r="4.85" fill="#3e5c91"/>
<circle cx="836.4" cy="1091" r="4.85" fill="#3d7f8e"/>
<circle cx="848.5" cy="1095.8" r="4.85" fill="#3e5c91"/>
<circle cx="850.4" cy="1097.4" r="4.85" fill="#3e5c91"/>
<circle cx="911" cy="1011.3" r="4.85" fill="#3d7f8e"/>
<circle cx="916.5" cy="1018.1" r="4.85" fill="#6cc274"/>
<circle cx="898.3" cy="1048.9" r="4.85" fill="#4aa08a"/>
<circle cx="896.8" cy="1050.9" r="4.85" fill="#472f7d"/>
<circle cx="890.4" cy="1073.9" r="4.85" fill="#3d7f8e"/>
<circle cx="891.9" cy="1068" r="4.85" fill="#4aa08a"/>
<circle cx="928.7" cy="1063.8" r="4.85" fill="#3d7f8e"/>
<circle cx="887.8" cy="1097.7" r="4.85" fill="#6cc274"/>
<circle cx="887.9" cy="1091.8" r="4.85" fill="#3e5c91"/>
<circle cx="986.9" cy="993.3" r="4.85" fill="#472f7d"/>
<circle cx="989.9" cy="988.4" r="4.85" fill="#472f7d"/>
<circle cx="989.1" cy="1033" r="4.85" fill="#472f7d"/>
<circle cx="982.4" cy="1054.1" r="4.85" fill="#3d7f8e"/>
<circle cx="984.2" cy="1062.3" r="4.85" fill="#3d7f8e"/>
<circle cx="985.8" cy="1078" r="4.85" fill="#3d7f8e"/>
<circle cx="1001.2" cy="1006.8" r="4.85" fill="#4aa08a"/>
<circle cx="1003.1" cy="1035.4" r="4.85" fill="#3d7f8e"/>
<circle cx="999.7" cy="1066.2" r="4.85" fill="#4aa08a"/>
<circle cx="996" cy="1088.5" r="4.85" fill="#3e5c91"/>
<circle cx="1043.4" cy="1010.4" r="4.85" fill="#3d7f8e"/>
<circle cx="1042.5" cy="1044.8" r="4.85" fill="#f8e650"/>
<circle cx="1076.3" cy="1003.5" r="4.85" fill="#472f7d"/>
<circle cx="1077.8" cy="1003" r="4.85" fill="#3d7f8e"/>
<circle cx="1082.7" cy="1014.6" r="4.85" fill="#3e5c91"/>
<circle cx="1077.4" cy="1033.8" r="4.85" fill="#3e5c91"/>
<circle cx="1076.6" cy="1031.5" r="4.85" fill="#4aa08a"/>
<circle cx="1084.2" cy="1058.8" r="4.85" fill="#3e5c91"/>
<circle cx="1079" cy="1087" r="4.85" fill="#472f7d"/>
<circle cx="1076.3" cy="1091" r="4.85" fill="#472f7d"/>
<circle cx="1133.6" cy="1004.3" r="4.85" fill="#3e5c91"/>
<circle cx="1134.2" cy="1033.3" r="4.85" fill="#3e5c91"/>
<circle cx="1132.9" cy="1027.7" r="4.85" fill="#472f7d"/>
<circle cx="1128.5" cy="1055.8" r="4.85" fill="#3d7f8e"/>
<circle cx="1137.8" cy="1066.8" r="4.85" fill="#472f7d"/>
<circle cx="1130.9" cy="1066.2" r="4.85" fill="#3e5c91"/>
<circle cx="1125.1" cy="1069.8" r="4.85" fill="#3e5c91"/>
<circle cx="1125.3" cy="1082.7" r="4.85" fill="#f8e650"/>
<circle cx="1135.1" cy="1092.8" r="4.85" fill="#3d7f8e"/>
<circle cx="1125.1" cy="1094.9" r="4.85" fill="#3e5c91"/>
<circle cx="1121" cy="1098.9" r="4.85" fill="#3d7f8e"/>
<circle cx="1242.4" cy="978" r="4.85" fill="#3e5c91"/>
<circle cx="1247.4" cy="1025.6" r="4.85" fill="#3d7f8e"/>
<circle cx="1218.7" cy="1031.1" r="4.85" fill="#3d7f8e"/>
<circle cx="1221" cy="1034.4" r="4.85" fill="#4aa08a"/>
<circle cx="1211.3" cy="1052.7" r="4.85" fill="#440d54"/>
<circle cx="1195.8" cy="1069.8" r="4.85" fill="#3d7f8e"/>
<circle cx="1223.5" cy="1067.2" r="4.85" fill="#3e5c91"/>
<circle cx="1262" cy="1067.2" r="4.85" fill="#472f7d"/>
<circle cx="1281.7" cy="1074.1" r="4.85" fill="#472f7d"/>
<circle cx="1228.5" cy="1096.3" r="4.85" fill="#3e5c91"/>
<circle cx="760.2" cy="1205.4" r="4.85" fill="#a6db55"/>
<circle cx="800.3" cy="1188.5" r="4.85" fill="#3d7f8e"/>
<circle cx="791.8" cy="1212.7" r="4.85" fill="#3e5c91"/>
<circle cx="845.4" cy="1182.3" r="4.85" fill="#472f7d"/>
<circle cx="843.2" cy="1189.3" r="4.85" fill="#3e5c91"/>
<circle cx="892" cy="1174" r="4.85" fill="#3e5c91"/>
<circle cx="887.4" cy="1178.6" r="4.85" fill="#4aa08a"/>
<circle cx="895.6" cy="1225.6" r="4.85" fill="#3d7f8e"/>
<circle cx="810.4" cy="1270.8" r="4.85" fill="#a6db55"/>
<circle cx="886" cy="1266.1" r="4.85" fill="#3e5c91"/>
<circle cx="848.3" cy="1276.2" r="4.85" fill="#3e5c91"/>
<circle cx="844.4" cy="1280" r="4.85" fill="#3e5c91"/>
<circle cx="981.7" cy="1165.3" r="4.85" fill="#3e5c91"/>
<circle cx="983.3" cy="1170.2" r="4.85" fill="#472f7d"/>
<circle cx="982.1" cy="1181.7" r="4.85" fill="#6cc274"/>
<circle cx="988.8" cy="1195.8" r="4.85" fill="#3d7f8e"/>
<circle cx="996.7" cy="1217.9" r="4.85" fill="#3e5c91"/>
<circle cx="983.3" cy="1231.2" r="4.85" fill="#3d7f8e"/>
<circle cx="1005.9" cy="1235.3" r="4.85" fill="#3e5c91"/>
<circle cx="1021" cy="1178.6" r="4.85" fill="#3e5c91"/>
<circle cx="1017.4" cy="1222.2" r="4.85" fill="#4aa08a"/>
<circle cx="1077.5" cy="1167.9" r="4.85" fill="#440d54"/>
<circle cx="1066.8" cy="1176.8" r="4.85" fill="#3e5c91"/>
<circle cx="1079.3" cy="1180.8" r="4.85" fill="#3d7f8e"/>
<circle cx="1076.3" cy="1190.5" r="4.85" fill="#3e5c91"/>
<circle cx="1083.3" cy="1227.4" r="4.85" fill="#3e5c91"/>
<circle cx="983.1" cy="1267.3" r="4.85" fill="#472f7d"/>
<circle cx="1030.5" cy="1270.4" r="4.85" fill="#3d7f8e"/>
<circle cx="1076.1" cy="1270.2" r="4.85" fill="#3e5c91"/>
<circle cx="1123.3" cy="1167.3" r="4.85" fill="#3d7f8e"/>
<circle cx="1132.1" cy="1167.9" r="4.85" fill="#4aa08a"/>
<circle cx="1130.1" cy="1169.4" r="4.85" fill="#6cc274"/>
<circle cx="1131.3" cy="1186.1" r="4.85" fill="#472f7d"/>
<circle cx="1171.9" cy="1180" r="4.85" fill="#3e5c91"/>
<circle cx="1233.3" cy="1187.1" r="4.85" fill="#3e5c91"/>
<circle cx="1205.7" cy="1211.3" r="4.85" fill="#472f7d"/>
<circle cx="1100.5" cy="1231.5" r="4.85" fill="#472f7d"/>
<circle cx="1142.6" cy="1235.3" r="4.85" fill="#472f7d"/>
<circle cx="1123.1" cy="1254.6" r="4.85" fill="#3d7f8e"/>
<circle cx="1130.3" cy="1250.4" r="4.85" fill="#472f7d"/>
<circle cx="1361.4" cy="1177.6" r="4.85" fill="#3e5c91"/>
<circle cx="1368" cy="1259.5" r="4.85" fill="#3e5c91"/>
<circle cx="1364" cy="1269.6" r="4.85" fill="#472f7d"/>
<circle cx="1124.9" cy="1281.9" r="4.85" fill="#472f7d"/>
<circle cx="1610.2" cy="1315.1" r="4.85" fill="#472f7d"/>
<circle cx="1704.3" cy="1309.1" r="4.85" fill="#3e5c91"/>
<circle cx="1506.9" cy="1408.5" r="4.85" fill="#472f7d"/>
<circle cx="812.6" cy="1295.7" r="4.85" fill="#3d7f8e"/>
<circle cx="800.7" cy="1314.4" r="4.85" fill="#3d7f8e"/>
<circle cx="893" cy="1312.4" r="4.85" fill="#3e5c91"/>
<circle cx="990.4" cy="1291" r="4.85" fill="#472f7d"/>
<circle cx="1046.2" cy="1298.1" r="4.85" fill="#3d7f8e"/>
<circle cx="1036.2" cy="1308.2" r="4.85" fill="#3e5c91"/>
<circle cx="1078.3" cy="1308.8" r="4.85" fill="#3e5c91"/>
<circle cx="1077.3" cy="1329.8" r="4.85" fill="#3d7f8e"/>
<circle cx="984" cy="1343.7" r="4.85" fill="#3d7f8e"/>
<circle cx="986.2" cy="1348.5" r="4.85" fill="#6cc274"/>
<circle cx="893" cy="1350.7" r="4.85" fill="#3e5c91"/>
<circle cx="888.4" cy="1361.4" r="4.85" fill="#3d7f8e"/>
<circle cx="945.4" cy="1359.4" r="4.85" fill="#3e5c91"/>
<circle cx="1030.9" cy="1353.8" r="4.85" fill="#4aa08a"/>
<circle cx="795.2" cy="1379.8" r="4.85" fill="#6cc274"/>
<circle cx="792.2" cy="1383.8" r="4.85" fill="#4aa08a"/>
<circle cx="797.3" cy="1377.1" r="4.85" fill="#3d7f8e"/>
<circle cx="798.1" cy="1394.1" r="4.85" fill="#3d7f8e"/>
<circle cx="809.6" cy="1401.5" r="4.85" fill="#472f7d"/>
<circle cx="838" cy="1403.7" r="4.85" fill="#a6db55"/>
<circle cx="853.1" cy="1382.2" r="4.85" fill="#472f7d"/>
<circle cx="903.3" cy="1382.2" r="4.85" fill="#3d7f8e"/>
<circle cx="980.9" cy="1381.6" r="4.85" fill="#4aa08a"/>
<circle cx="992.8" cy="1386.2" r="4.85" fill="#3e5c91"/>
<circle cx="1083.8" cy="1380.4" r="4.85" fill="#3d7f8e"/>
<circle cx="1078.9" cy="1391.2" r="4.85" fill="#472f7d"/>
<circle cx="1125.5" cy="1298.3" r="4.85" fill="#6cc274"/>
<circle cx="1123.7" cy="1309.8" r="4.85" fill="#3e5c91"/>
<circle cx="1223.3" cy="1336.6" r="4.85" fill="#3e5c91"/>
<circle cx="1128.7" cy="1368.3" r="4.85" fill="#3d7f8e"/>
<circle cx="1131.5" cy="1361.2" r="4.85" fill="#472f7d"/>
<circle cx="1130.3" cy="1376.9" r="4.85" fill="#472f7d"/>
<circle cx="1123.5" cy="1400.1" r="4.85" fill="#3e5c91"/>
<circle cx="1131.5" cy="1399.5" r="4.85" fill="#472f7d"/>
<circle cx="1369.2" cy="1289" r="4.85" fill="#6cc274"/>
<circle cx="1368.2" cy="1310.8" r="4.85" fill="#3e5c91"/>
<circle cx="1368.6" cy="1327.5" r="4.85" fill="#3d7f8e"/>
<circle cx="1373.7" cy="1325.5" r="4.85" fill="#4aa08a"/>
<circle cx="1369.4" cy="1401.7" r="4.85" fill="#3d7f8e"/>
<circle cx="1367.4" cy="1403.3" r="4.85" fill="#472f7d"/>
<circle cx="893" cy="1486.2" r="4.85" fill="#6cc274"/>
<circle cx="1000.4" cy="1477.3" r="4.85" fill="#440d54"/>
<circle cx="1003.1" cy="1511.8" r="4.85" fill="#3d7f8e"/>
<circle cx="1164.1" cy="1495.7" r="4.85" fill="#472f7d"/>
<circle cx="1104.6" cy="1533.5" r="4.85" fill="#3e5c91"/>
<circle cx="984" cy="1567.4" r="4.85" fill="#4aa08a"/>
<circle cx="1282" cy="1563" r="4.85" fill="#472f7d"/>
<circle cx="900.4" cy="1586.5" r="4.85" fill="#4aa08a"/>
<circle cx="990.9" cy="1584.4" r="4.85" fill="#472f7d"/>
<circle cx="798" cy="1607" r="4.85" fill="#3e5c91"/>
<circle cx="888.8" cy="1608.5" r="4.85" fill="#3d7f8e"/>
<circle cx="981.1" cy="1609.4" r="4.85" fill="#440d54"/>
<circle cx="1019.5" cy="1616.2" r="4.85" fill="#472f7d"/>
<circle cx="1249.2" cy="1615.7" r="4.85" fill="#472f7d"/>
<circle cx="1123.9" cy="1635.6" r="4.85" fill="#472f7d"/>
<circle cx="986.1" cy="1641.8" r="4.85" fill="#3e5c91"/>
<circle cx="985.8" cy="1650.8" r="4.85" fill="#3d7f8e"/>
<circle cx="1126.9" cy="1652" r="4.85" fill="#472f7d"/>
<circle cx="1124.8" cy="1654.3" r="4.85" fill="#3e5c91"/>
<circle cx="969.8" cy="1664.5" r="4.85" fill="#3e5c91"/>
<circle cx="1084" cy="1681.1" r="4.85" fill="#3e5c91"/>
<circle cx="1126.3" cy="1689.2" r="4.85" fill="#3e5c91"/>
<circle cx="1076.3" cy="1692.7" r="4.85" fill="#472f7d"/>
<circle cx="1077.5" cy="1699" r="4.85" fill="#472f7d"/>
<circle cx="872.4" cy="1696.9" r="4.85" fill="#3e5c91"/>
<circle cx="1128.7" cy="1703.2" r="4.85" fill="#3e5c91"/>
<circle cx="1129.6" cy="1707" r="4.85" fill="#3e5c91"/>
<circle cx="1610.8" cy="1574.9" r="4.85" fill="#440d54"/>
<circle cx="1646.2" cy="1583.8" r="4.85" fill="#472f7d"/>
<circle cx="1372.4" cy="1656.4" r="4.85" fill="#3e5c91"/>
<circle cx="1366.5" cy="1658.5" r="4.85" fill="#472f7d"/>
<circle cx="1836.4" cy="1694.5" r="4.85" fill="#472f7d"/>
<circle cx="1366.8" cy="1592.7" r="4.85" fill="#440d54"/>
<path d="M887.5 1783.4v5.5M1125.2 1783.4v5.5M1362.8 1783.4v5.5M1600.5 1783.4v5.5M1838.1 1783.4v5.5M690.3 352.5h-5.5M690.3 663.6h-5.5M690.3 974.7h-5.5M690.3 1285.7h-5.5M690.3 1596.8h-5.5" stroke="#333" stroke-width="2.13" fill="none"/>
<text x="887.5" y="1807" font-size="17.6" fill="#4d4d4d" text-anchor="middle">0.5</text>
<text x="1125.2" y="1807" font-size="17.6" fill="#4d4d4d" text-anchor="middle">1.0</text>
<text x="1362.8" y="1807" font-size="17.6" fill="#4d4d4d" text-anchor="middle">1.5</text>
<text x="1600.5" y="1807" font-size="17.6" fill="#4d4d4d" text-anchor="middle">2.0</text>
<text x="1838.1" y="1807" font-size="17.6" fill="#4d4d4d" text-anchor="middle">2.5</text>
<text x="679.5" y="358.9" font-size="17.6" fill="#4d4d4d" text-anchor="end">Ideal</text>
<text x="679.5" y="670" font-size="17.6" fill="#4d4d4d" text-anchor="end">Premium</text>
<text x="679.5" y="981.1" font-size="17.6" fill="#4d4d4d" text-anchor="end">Very Good</text>
<text x="679.5" y="1292.1" font-size="17.6" fill="#4d4d4d" text-anchor="end">Good</text>
<text x="679.5" y="1603.2" font-size="17.6" fill="#4d4d4d" text-anchor="end">Fair</text>
<text x="1291.5" y="1832" font-size="22" fill="#000" text-anchor="middle">carat</text>
<text transform="translate(585.2 974.7) rotate(-90)" font-size="22" fill="#000" text-anchor="middle">cut</text>
<text x="1925.7" y="839.2" font-size="21.8" fill="#000">clarity</text>
<rect x="1926.2" y="852.1" width="33.7" height="277.20" fill="#f2f2f2"/>
<circle cx="1943" cy="869.4" r="4.6" fill="#440d54"/>
<circle cx="1943" cy="904.1" r="4.6" fill="#472f7d"/>
<circle cx="1943" cy="938.7" r="4.6" fill="#3e5c91"/>
<circle cx="1943" cy="973.4" r="4.6" fill="#3d7f8e"/>
<circle cx="1943" cy="1008" r="4.6" fill="#4aa08a"/>
<circle cx="1943" cy="1042.7" r="4.6" fill="#6cc274"/>
<circle cx="1943" cy="1077.3" r="4.6" fill="#a6db55"/>
<circle cx="1943" cy="1112" r="4.6" fill="#f8e650"/>
<rect x="1926.2" y="852.1" width="33.7" height="277.20" fill="#999" fill-opacity="0.4"/>
<path d="M1929 869.4H1957" stroke="#440d54" stroke-width="5.1"/>
<text x="1971" y="875.8" font-size="17.6" fill="#000">I1</text>
<path d="M1929 904.1H1957" stroke="#472f7d" stroke-width="5.1"/>
<text x="1971" y="910.5" font-size="17.6" fill="#000">SI2</text>
<path d="M1929 938.7H1957" stroke="#3e5c91" stroke-width="5.1"/>
<text x="1971" y="945.1" font-size="17.6" fill="#000">SI1</text>
<path d="M1929 973.4H1957" stroke="#3d7f8e" stroke-width="5.1"/>
<text x="1971" y="979.8" font-size="17.6" fill="#000">VS2</text>
<path d="M1929 1008H1957" stroke="#4aa08a" stroke-width="5.1"/>
<text x="1971" y="1014.4" font-size="17.6" fill="#000">VS1</text>
<path d="M1929 1042.7H1957" stroke="#6cc274" stroke-width="5.1"/>
<text x="1971" y="1049.1" font-size="17.6" fill="#000">VVS2</text>
<path d="M1929 1077.3H1957" stroke="#a6db55" stroke-width="5.1"/>
<text x="1971" y="1083.7" font-size="17.6" fill="#000">VVS1</text>
<path d="M1929 1112H1957" stroke="#f8e650" stroke-width="5.1"/>
<text x="1971" y="1118.4" font-size="17.6" fill="#000">IF</text>
</svg>
<div style="position:absolute;left:2078px;top:1888px;width:18px;height:18px;background:radial-gradient(circle at 0 0,rgba(0,0,0,0) 19.3px,#8e8e8e 20.2px,#adadad 22px);"></div>
</body>
</html>
